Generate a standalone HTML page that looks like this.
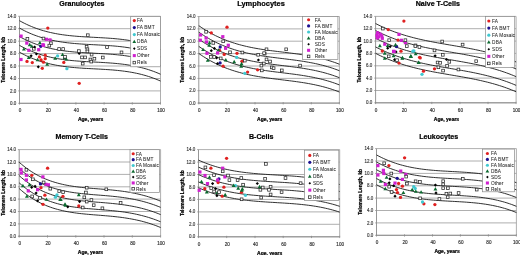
<!DOCTYPE html><html><head><meta charset="utf-8"><style>html,body{margin:0;padding:0;background:#fff;overflow:hidden}svg{display:block;will-change:transform}text{font-family:"Liberation Sans",sans-serif}</style></head><body>
<svg width="520" height="255" viewBox="0 0 520 255">
<rect width="520" height="255" fill="#fff"/>
<g><line x1="19.5" y1="103.3" x2="160.5" y2="103.3" stroke="#9a9a9a" stroke-width="0.8"/><line x1="19.5" y1="90.9" x2="160.5" y2="90.9" stroke="#9a9a9a" stroke-width="0.8"/><line x1="19.5" y1="78.5" x2="160.5" y2="78.5" stroke="#9a9a9a" stroke-width="0.8"/><line x1="19.5" y1="66.0" x2="160.5" y2="66.0" stroke="#9a9a9a" stroke-width="0.8"/><line x1="19.5" y1="53.6" x2="160.5" y2="53.6" stroke="#9a9a9a" stroke-width="0.8"/><line x1="19.5" y1="41.2" x2="160.5" y2="41.2" stroke="#9a9a9a" stroke-width="0.8"/><line x1="19.5" y1="28.7" x2="160.5" y2="28.7" stroke="#9a9a9a" stroke-width="0.8"/><line x1="19.5" y1="16.3" x2="160.5" y2="16.3" stroke="#9a9a9a" stroke-width="0.8"/><line x1="160.5" y1="16.3" x2="160.5" y2="103.3" stroke="#9a9a9a" stroke-width="0.8"/><line x1="19.5" y1="16.3" x2="19.5" y2="103.8" stroke="#8a8a8a" stroke-width="0.9"/><line x1="19.1" y1="103.3" x2="160.5" y2="103.3" stroke="#8a8a8a" stroke-width="0.9"/><line x1="18.2" y1="103.3" x2="19.5" y2="103.3" stroke="#8a8a8a" stroke-width="0.8"/><line x1="18.2" y1="90.9" x2="19.5" y2="90.9" stroke="#8a8a8a" stroke-width="0.8"/><line x1="18.2" y1="78.5" x2="19.5" y2="78.5" stroke="#8a8a8a" stroke-width="0.8"/><line x1="18.2" y1="66.0" x2="19.5" y2="66.0" stroke="#8a8a8a" stroke-width="0.8"/><line x1="18.2" y1="53.6" x2="19.5" y2="53.6" stroke="#8a8a8a" stroke-width="0.8"/><line x1="18.2" y1="41.2" x2="19.5" y2="41.2" stroke="#8a8a8a" stroke-width="0.8"/><line x1="18.2" y1="28.7" x2="19.5" y2="28.7" stroke="#8a8a8a" stroke-width="0.8"/><line x1="18.2" y1="16.3" x2="19.5" y2="16.3" stroke="#8a8a8a" stroke-width="0.8"/><line x1="19.5" y1="102.3" x2="19.5" y2="104.6" stroke="#8a8a8a" stroke-width="0.8"/><line x1="47.7" y1="102.3" x2="47.7" y2="104.6" stroke="#8a8a8a" stroke-width="0.8"/><line x1="75.9" y1="102.3" x2="75.9" y2="104.6" stroke="#8a8a8a" stroke-width="0.8"/><line x1="104.1" y1="102.3" x2="104.1" y2="104.6" stroke="#8a8a8a" stroke-width="0.8"/><line x1="132.3" y1="102.3" x2="132.3" y2="104.6" stroke="#8a8a8a" stroke-width="0.8"/><line x1="160.5" y1="102.3" x2="160.5" y2="104.6" stroke="#8a8a8a" stroke-width="0.8"/><text x="16.2" y="104.95" font-size="4.5" text-anchor="end" fill="#383838" stroke="#383838" stroke-width="0.14">0.0</text><text x="16.2" y="92.51" font-size="4.5" text-anchor="end" fill="#383838" stroke="#383838" stroke-width="0.14">2.0</text><text x="16.2" y="80.08" font-size="4.5" text-anchor="end" fill="#383838" stroke="#383838" stroke-width="0.14">4.0</text><text x="16.2" y="67.64" font-size="4.5" text-anchor="end" fill="#383838" stroke="#383838" stroke-width="0.14">6.0</text><text x="16.2" y="55.21" font-size="4.5" text-anchor="end" fill="#383838" stroke="#383838" stroke-width="0.14">8.0</text><text x="16.2" y="42.77" font-size="4.5" text-anchor="end" fill="#383838" stroke="#383838" stroke-width="0.14">10.0</text><text x="16.2" y="30.34" font-size="4.5" text-anchor="end" fill="#383838" stroke="#383838" stroke-width="0.14">12.0</text><text x="16.2" y="17.90" font-size="4.5" text-anchor="end" fill="#383838" stroke="#383838" stroke-width="0.14">14.0</text><text x="20.0" y="112.4" font-size="4.6" text-anchor="middle" fill="#333" stroke="#333" stroke-width="0.16">0</text><text x="48.2" y="112.4" font-size="4.6" text-anchor="middle" fill="#333" stroke="#333" stroke-width="0.16">20</text><text x="76.4" y="112.4" font-size="4.6" text-anchor="middle" fill="#333" stroke="#333" stroke-width="0.16">40</text><text x="104.6" y="112.4" font-size="4.6" text-anchor="middle" fill="#333" stroke="#333" stroke-width="0.16">60</text><text x="132.8" y="112.4" font-size="4.6" text-anchor="middle" fill="#333" stroke="#333" stroke-width="0.16">80</text><text x="161.0" y="112.4" font-size="4.6" text-anchor="middle" fill="#333" stroke="#333" stroke-width="0.16">100</text><text x="90.6" y="121.2" font-size="5.0" font-weight="bold" text-anchor="middle" fill="#000" stroke="#000" stroke-width="0.22">Age, years</text><text transform="translate(4.8,59.8) rotate(-90)" x="0" y="0" font-size="4.72" font-weight="bold" text-anchor="middle" fill="#000" stroke="#000" stroke-width="0.22">Telomere Length, kb</text><text x="81.9" y="6.1" font-size="7.1" font-weight="bold" text-anchor="middle" fill="#000" stroke="#000" stroke-width="0.2">Granulocytes</text><polyline points="19.50,20.69 21.89,22.00 24.28,23.23 26.67,24.40 29.06,25.49 31.45,26.51 33.84,27.47 36.23,28.36 38.62,29.19 41.01,29.97 43.40,30.69 45.79,31.35 48.18,31.97 50.57,32.53 52.96,33.05 55.35,33.53 57.74,33.97 60.13,34.36 62.52,34.73 64.91,35.06 67.30,35.35 69.69,35.62 72.08,35.87 74.47,36.09 76.86,36.29 79.25,36.47 81.64,36.64 84.03,36.79 86.42,36.93 88.81,37.06 91.19,37.19 93.58,37.31 95.97,37.44 98.36,37.56 100.75,37.69 103.14,37.83 105.53,37.97 107.92,38.13 110.31,38.30 112.70,38.48 115.09,38.69 117.48,38.92 119.87,39.17 122.26,39.44 124.65,39.75 127.04,40.09 129.43,40.46 131.82,40.87 134.21,41.32 136.60,41.81 138.99,42.34 141.38,42.92 143.77,43.55 146.16,44.23 148.55,44.97 150.94,45.76 153.33,46.61 155.72,47.52 158.11,48.50 160.50,49.54" fill="none" stroke="#1a1a1a" stroke-width="0.9"/><polyline points="19.50,28.09 21.89,29.40 24.28,30.63 26.67,31.80 29.06,32.89 31.45,33.91 33.84,34.87 36.23,35.76 38.62,36.59 41.01,37.37 43.40,38.09 45.79,38.75 48.18,39.37 50.57,39.93 52.96,40.45 55.35,40.93 57.74,41.37 60.13,41.76 62.52,42.13 64.91,42.46 67.30,42.75 69.69,43.02 72.08,43.27 74.47,43.49 76.86,43.69 79.25,43.87 81.64,44.04 84.03,44.19 86.42,44.33 88.81,44.46 91.19,44.59 93.58,44.71 95.97,44.84 98.36,44.96 100.75,45.09 103.14,45.23 105.53,45.37 107.92,45.53 110.31,45.70 112.70,45.88 115.09,46.09 117.48,46.32 119.87,46.57 122.26,46.84 124.65,47.15 127.04,47.49 129.43,47.86 131.82,48.27 134.21,48.72 136.60,49.21 138.99,49.74 141.38,50.32 143.77,50.95 146.16,51.63 148.55,52.37 150.94,53.16 153.33,54.01 155.72,54.92 158.11,55.90 160.50,56.94" fill="none" stroke="#1a1a1a" stroke-width="0.9"/><polyline points="19.50,36.59 21.89,37.90 24.28,39.13 26.67,40.30 29.06,41.39 31.45,42.41 33.84,43.37 36.23,44.26 38.62,45.09 41.01,45.87 43.40,46.59 45.79,47.25 48.18,47.87 50.57,48.43 52.96,48.95 55.35,49.43 57.74,49.87 60.13,50.26 62.52,50.63 64.91,50.96 67.30,51.25 69.69,51.52 72.08,51.77 74.47,51.99 76.86,52.19 79.25,52.37 81.64,52.54 84.03,52.69 86.42,52.83 88.81,52.96 91.19,53.09 93.58,53.21 95.97,53.34 98.36,53.46 100.75,53.59 103.14,53.73 105.53,53.87 107.92,54.03 110.31,54.20 112.70,54.38 115.09,54.59 117.48,54.82 119.87,55.07 122.26,55.34 124.65,55.65 127.04,55.99 129.43,56.36 131.82,56.77 134.21,57.22 136.60,57.71 138.99,58.24 141.38,58.82 143.77,59.45 146.16,60.13 148.55,60.87 150.94,61.66 153.33,62.51 155.72,63.42 158.11,64.40 160.50,65.44" fill="none" stroke="#1a1a1a" stroke-width="0.9"/><polyline points="19.50,45.39 21.89,46.70 24.28,47.93 26.67,49.10 29.06,50.19 31.45,51.21 33.84,52.17 36.23,53.06 38.62,53.89 41.01,54.67 43.40,55.39 45.79,56.05 48.18,56.67 50.57,57.23 52.96,57.75 55.35,58.23 57.74,58.67 60.13,59.06 62.52,59.43 64.91,59.76 67.30,60.05 69.69,60.32 72.08,60.57 74.47,60.79 76.86,60.99 79.25,61.17 81.64,61.34 84.03,61.49 86.42,61.63 88.81,61.76 91.19,61.89 93.58,62.01 95.97,62.14 98.36,62.26 100.75,62.39 103.14,62.53 105.53,62.67 107.92,62.83 110.31,63.00 112.70,63.18 115.09,63.39 117.48,63.62 119.87,63.87 122.26,64.14 124.65,64.45 127.04,64.79 129.43,65.16 131.82,65.57 134.21,66.02 136.60,66.51 138.99,67.04 141.38,67.62 143.77,68.25 146.16,68.93 148.55,69.67 150.94,70.46 153.33,71.31 155.72,72.22 158.11,73.20 160.50,74.24" fill="none" stroke="#1a1a1a" stroke-width="0.9"/><polyline points="19.50,52.19 21.89,53.50 24.28,54.73 26.67,55.90 29.06,56.99 31.45,58.01 33.84,58.97 36.23,59.86 38.62,60.69 41.01,61.47 43.40,62.19 45.79,62.85 48.18,63.47 50.57,64.03 52.96,64.55 55.35,65.03 57.74,65.47 60.13,65.86 62.52,66.23 64.91,66.56 67.30,66.85 69.69,67.12 72.08,67.37 74.47,67.59 76.86,67.79 79.25,67.97 81.64,68.14 84.03,68.29 86.42,68.43 88.81,68.56 91.19,68.69 93.58,68.81 95.97,68.94 98.36,69.06 100.75,69.19 103.14,69.33 105.53,69.47 107.92,69.63 110.31,69.80 112.70,69.98 115.09,70.19 117.48,70.42 119.87,70.67 122.26,70.94 124.65,71.25 127.04,71.59 129.43,71.96 131.82,72.37 134.21,72.82 136.60,73.31 138.99,73.84 141.38,74.42 143.77,75.05 146.16,75.73 148.55,76.47 150.94,77.26 153.33,78.11 155.72,79.02 158.11,80.00 160.50,81.04" fill="none" stroke="#1a1a1a" stroke-width="0.9"/><circle cx="47.80" cy="28.10" r="1.65" fill="#e02020"/><circle cx="27.00" cy="61.40" r="1.65" fill="#e02020"/><circle cx="32.30" cy="62.60" r="1.65" fill="#e02020"/><circle cx="39.40" cy="56.90" r="1.65" fill="#e02020"/><circle cx="45.20" cy="55.20" r="1.65" fill="#e02020"/><circle cx="45.20" cy="58.70" r="1.65" fill="#e02020"/><circle cx="41.10" cy="59.90" r="1.65" fill="#e02020"/><circle cx="43.50" cy="62.20" r="1.65" fill="#e02020"/><circle cx="42.30" cy="68.30" r="1.65" fill="#e02020"/><circle cx="63.80" cy="62.40" r="1.65" fill="#e02020"/><circle cx="79.20" cy="83.30" r="1.65" fill="#e02020"/><circle cx="40.80" cy="46.30" r="1.65" fill="#1c1090"/><path d="M31.80 44.35L33.75 47.76L29.85 47.76Z" fill="#0c6a30"/><rect x="32.45" y="47.45" width="2.70" height="2.70" fill="#fff" stroke="#2a2a2a" stroke-width="0.75"/><circle cx="57.60" cy="55.90" r="1.65" fill="#40c8d0"/><circle cx="66.90" cy="68.70" r="1.65" fill="#40c8d0"/><path d="M39.90 40.85L41.85 44.26L37.95 44.26Z" fill="#0c6a30"/><path d="M29.70 42.75L31.65 46.16L27.75 46.16Z" fill="#0c6a30"/><path d="M23.90 47.15L25.85 50.56L21.95 50.56Z" fill="#0c6a30"/><path d="M28.80 55.55L30.75 58.96L26.85 58.96Z" fill="#0c6a30"/><path d="M47.20 62.25L49.15 65.66L45.25 65.66Z" fill="#0c6a30"/><path d="M62.60 52.65L64.55 56.06L60.65 56.06Z" fill="#0c6a30"/><path d="M55.20 56.25L57.15 59.66L53.25 59.66Z" fill="#0c6a30"/><path d="M64.60 55.55L66.55 58.96L62.65 58.96Z" fill="#0c6a30"/><path d="M37.60 57.75L39.55 61.16L35.65 61.16Z" fill="#0c6a30"/><path d="M66.20 57.15L68.15 60.56L64.25 60.56Z" fill="#0c6a30"/><path d="M34.60 45.40L36.20 47.00L34.60 48.60L33.00 47.00Z" fill="#000000"/><path d="M31.10 54.20L32.70 55.80L31.10 57.40L29.50 55.80Z" fill="#000000"/><path d="M36.40 52.40L38.00 54.00L36.40 55.60L34.80 54.00Z" fill="#000000"/><path d="M38.30 65.20L39.90 66.80L38.30 68.40L36.70 66.80Z" fill="#000000"/><path d="M79.20 51.80L80.80 53.40L79.20 55.00L77.60 53.40Z" fill="#000000"/><rect x="19.50" y="34.50" width="3.20" height="3.20" fill="#d020d0"/><rect x="25.20" y="41.50" width="3.20" height="3.20" fill="#d020d0"/><rect x="44.80" y="37.70" width="3.20" height="3.20" fill="#d020d0"/><rect x="48.40" y="38.30" width="3.20" height="3.20" fill="#d020d0"/><rect x="41.40" y="43.10" width="3.20" height="3.20" fill="#d020d0"/><rect x="37.10" y="48.10" width="3.20" height="3.20" fill="#d020d0"/><rect x="27.20" y="48.70" width="3.20" height="3.20" fill="#d020d0"/><rect x="19.40" y="57.90" width="3.20" height="3.20" fill="#d020d0"/><rect x="41.90" y="43.80" width="3.20" height="3.20" fill="#d020d0"/><rect x="26.05" y="37.55" width="2.70" height="2.70" fill="#fff" stroke="#2a2a2a" stroke-width="0.75"/><rect x="42.15" y="37.15" width="2.70" height="2.70" fill="#fff" stroke="#2a2a2a" stroke-width="0.75"/><rect x="49.55" y="41.95" width="2.70" height="2.70" fill="#fff" stroke="#2a2a2a" stroke-width="0.75"/><rect x="47.95" y="44.25" width="2.70" height="2.70" fill="#fff" stroke="#2a2a2a" stroke-width="0.75"/><rect x="57.75" y="47.65" width="2.70" height="2.70" fill="#fff" stroke="#2a2a2a" stroke-width="0.75"/><rect x="61.85" y="47.65" width="2.70" height="2.70" fill="#fff" stroke="#2a2a2a" stroke-width="0.75"/><rect x="86.45" y="33.85" width="2.70" height="2.70" fill="#fff" stroke="#2a2a2a" stroke-width="0.75"/><rect x="105.65" y="45.75" width="2.70" height="2.70" fill="#fff" stroke="#2a2a2a" stroke-width="0.75"/><rect x="85.25" y="45.45" width="2.70" height="2.70" fill="#fff" stroke="#2a2a2a" stroke-width="0.75"/><rect x="86.05" y="47.95" width="2.70" height="2.70" fill="#fff" stroke="#2a2a2a" stroke-width="0.75"/><rect x="86.05" y="50.05" width="2.70" height="2.70" fill="#fff" stroke="#2a2a2a" stroke-width="0.75"/><rect x="77.55" y="49.75" width="2.70" height="2.70" fill="#fff" stroke="#2a2a2a" stroke-width="0.75"/><rect x="90.25" y="53.25" width="2.70" height="2.70" fill="#fff" stroke="#2a2a2a" stroke-width="0.75"/><rect x="80.65" y="56.05" width="2.70" height="2.70" fill="#fff" stroke="#2a2a2a" stroke-width="0.75"/><rect x="83.75" y="56.05" width="2.70" height="2.70" fill="#fff" stroke="#2a2a2a" stroke-width="0.75"/><rect x="89.05" y="58.15" width="2.70" height="2.70" fill="#fff" stroke="#2a2a2a" stroke-width="0.75"/><rect x="93.05" y="57.35" width="2.70" height="2.70" fill="#fff" stroke="#2a2a2a" stroke-width="0.75"/><rect x="101.45" y="56.15" width="2.70" height="2.70" fill="#fff" stroke="#2a2a2a" stroke-width="0.75"/><rect x="81.35" y="62.25" width="2.70" height="2.70" fill="#fff" stroke="#2a2a2a" stroke-width="0.75"/><rect x="89.95" y="60.25" width="2.70" height="2.70" fill="#fff" stroke="#2a2a2a" stroke-width="0.75"/><rect x="120.15" y="51.05" width="2.70" height="2.70" fill="#fff" stroke="#2a2a2a" stroke-width="0.75"/><rect x="63.65" y="55.45" width="2.70" height="2.70" fill="#fff" stroke="#2a2a2a" stroke-width="0.75"/><rect x="130.7" y="16.6" width="29.7" height="50.2" fill="#fff" stroke="#8a8a8a" stroke-width="0.7"/><circle cx="134.30" cy="20.60" r="1.57" fill="#e02020"/><text x="137.1" y="22.3" font-size="4.75" letter-spacing="0.12" fill="#2a2a2a" stroke="#2a2a2a" stroke-width="0.06">FA</text><circle cx="134.30" cy="27.60" r="1.57" fill="#1c1090"/><text x="137.1" y="29.3" font-size="4.75" letter-spacing="0.12" fill="#2a2a2a" stroke="#2a2a2a" stroke-width="0.06">FA BMT</text><circle cx="134.30" cy="34.60" r="1.57" fill="#40c8d0"/><text x="137.1" y="36.3" font-size="4.75" letter-spacing="0.12" fill="#2a2a2a" stroke="#2a2a2a" stroke-width="0.06">FA Mosaic</text><path d="M134.30 39.75L136.15 42.99L132.45 42.99Z" fill="#0c6a30"/><text x="137.1" y="43.3" font-size="4.75" letter-spacing="0.12" fill="#2a2a2a" stroke="#2a2a2a" stroke-width="0.06">DBA</text><path d="M134.30 47.32L135.58 48.60L134.30 49.88L133.02 48.60Z" fill="#000000"/><text x="137.1" y="50.3" font-size="4.75" letter-spacing="0.12" fill="#2a2a2a" stroke="#2a2a2a" stroke-width="0.06">SDS</text><rect x="132.78" y="54.08" width="3.04" height="3.04" fill="#d020d0"/><text x="137.1" y="57.3" font-size="4.75" letter-spacing="0.12" fill="#2a2a2a" stroke="#2a2a2a" stroke-width="0.06">Other</text><rect x="133.02" y="61.32" width="2.56" height="2.56" fill="#fff" stroke="#2a2a2a" stroke-width="0.75"/><text x="137.1" y="64.3" font-size="4.75" letter-spacing="0.12" fill="#2a2a2a" stroke="#2a2a2a" stroke-width="0.06">Rels</text></g>
<g><line x1="198.8" y1="103.1" x2="339.4" y2="103.1" stroke="#9a9a9a" stroke-width="0.8"/><line x1="198.8" y1="90.7" x2="339.4" y2="90.7" stroke="#9a9a9a" stroke-width="0.8"/><line x1="198.8" y1="78.4" x2="339.4" y2="78.4" stroke="#9a9a9a" stroke-width="0.8"/><line x1="198.8" y1="66.0" x2="339.4" y2="66.0" stroke="#9a9a9a" stroke-width="0.8"/><line x1="198.8" y1="53.6" x2="339.4" y2="53.6" stroke="#9a9a9a" stroke-width="0.8"/><line x1="198.8" y1="41.2" x2="339.4" y2="41.2" stroke="#9a9a9a" stroke-width="0.8"/><line x1="198.8" y1="28.9" x2="339.4" y2="28.9" stroke="#9a9a9a" stroke-width="0.8"/><line x1="198.8" y1="16.5" x2="339.4" y2="16.5" stroke="#9a9a9a" stroke-width="0.8"/><line x1="339.4" y1="16.5" x2="339.4" y2="103.1" stroke="#9a9a9a" stroke-width="0.8"/><line x1="198.8" y1="16.5" x2="198.8" y2="103.5" stroke="#8a8a8a" stroke-width="0.9"/><line x1="198.4" y1="103.1" x2="339.4" y2="103.1" stroke="#8a8a8a" stroke-width="0.9"/><line x1="197.5" y1="103.1" x2="198.8" y2="103.1" stroke="#8a8a8a" stroke-width="0.8"/><line x1="197.5" y1="90.7" x2="198.8" y2="90.7" stroke="#8a8a8a" stroke-width="0.8"/><line x1="197.5" y1="78.4" x2="198.8" y2="78.4" stroke="#8a8a8a" stroke-width="0.8"/><line x1="197.5" y1="66.0" x2="198.8" y2="66.0" stroke="#8a8a8a" stroke-width="0.8"/><line x1="197.5" y1="53.6" x2="198.8" y2="53.6" stroke="#8a8a8a" stroke-width="0.8"/><line x1="197.5" y1="41.2" x2="198.8" y2="41.2" stroke="#8a8a8a" stroke-width="0.8"/><line x1="197.5" y1="28.9" x2="198.8" y2="28.9" stroke="#8a8a8a" stroke-width="0.8"/><line x1="197.5" y1="16.5" x2="198.8" y2="16.5" stroke="#8a8a8a" stroke-width="0.8"/><line x1="198.8" y1="102.1" x2="198.8" y2="104.4" stroke="#8a8a8a" stroke-width="0.8"/><line x1="226.9" y1="102.1" x2="226.9" y2="104.4" stroke="#8a8a8a" stroke-width="0.8"/><line x1="255.0" y1="102.1" x2="255.0" y2="104.4" stroke="#8a8a8a" stroke-width="0.8"/><line x1="283.2" y1="102.1" x2="283.2" y2="104.4" stroke="#8a8a8a" stroke-width="0.8"/><line x1="311.3" y1="102.1" x2="311.3" y2="104.4" stroke="#8a8a8a" stroke-width="0.8"/><line x1="339.4" y1="102.1" x2="339.4" y2="104.4" stroke="#8a8a8a" stroke-width="0.8"/><text x="195.5" y="104.70" font-size="4.5" text-anchor="end" fill="#383838" stroke="#383838" stroke-width="0.14">0.0</text><text x="195.5" y="92.33" font-size="4.5" text-anchor="end" fill="#383838" stroke="#383838" stroke-width="0.14">2.0</text><text x="195.5" y="79.96" font-size="4.5" text-anchor="end" fill="#383838" stroke="#383838" stroke-width="0.14">4.0</text><text x="195.5" y="67.59" font-size="4.5" text-anchor="end" fill="#383838" stroke="#383838" stroke-width="0.14">6.0</text><text x="195.5" y="55.21" font-size="4.5" text-anchor="end" fill="#383838" stroke="#383838" stroke-width="0.14">8.0</text><text x="195.5" y="42.84" font-size="4.5" text-anchor="end" fill="#383838" stroke="#383838" stroke-width="0.14">10.0</text><text x="195.5" y="30.47" font-size="4.5" text-anchor="end" fill="#383838" stroke="#383838" stroke-width="0.14">12.0</text><text x="195.5" y="18.10" font-size="4.5" text-anchor="end" fill="#383838" stroke="#383838" stroke-width="0.14">14.0</text><text x="199.3" y="112.2" font-size="4.6" text-anchor="middle" fill="#333" stroke="#333" stroke-width="0.16">0</text><text x="227.4" y="112.2" font-size="4.6" text-anchor="middle" fill="#333" stroke="#333" stroke-width="0.16">20</text><text x="255.5" y="112.2" font-size="4.6" text-anchor="middle" fill="#333" stroke="#333" stroke-width="0.16">40</text><text x="283.7" y="112.2" font-size="4.6" text-anchor="middle" fill="#333" stroke="#333" stroke-width="0.16">60</text><text x="311.8" y="112.2" font-size="4.6" text-anchor="middle" fill="#333" stroke="#333" stroke-width="0.16">80</text><text x="339.9" y="112.2" font-size="4.6" text-anchor="middle" fill="#333" stroke="#333" stroke-width="0.16">100</text><text x="269.7" y="121.0" font-size="5.0" font-weight="bold" text-anchor="middle" fill="#000" stroke="#000" stroke-width="0.22">Age, years</text><text transform="translate(184.1,59.8) rotate(-90)" x="0" y="0" font-size="4.72" font-weight="bold" text-anchor="middle" fill="#000" stroke="#000" stroke-width="0.22">Telomere Length, kb</text><text x="261.0" y="6.1" font-size="7.45" font-weight="bold" text-anchor="middle" fill="#000" stroke="#000" stroke-width="0.2">Lymphocytes</text><polyline points="198.80,25.68 201.18,27.32 203.57,28.88 205.95,30.37 208.33,31.78 210.72,33.13 213.10,34.41 215.48,35.62 217.86,36.76 220.25,37.85 222.63,38.88 225.01,39.85 227.40,40.77 229.78,41.63 232.16,42.45 234.55,43.21 236.93,43.94 239.31,44.61 241.69,45.25 244.08,45.85 246.46,46.41 248.84,46.94 251.23,47.44 253.61,47.91 255.99,48.35 258.38,48.76 260.76,49.16 263.14,49.53 265.53,49.88 267.91,50.22 270.29,50.55 272.67,50.86 275.06,51.16 277.44,51.46 279.82,51.75 282.21,52.04 284.59,52.34 286.97,52.63 289.36,52.93 291.74,53.23 294.12,53.54 296.51,53.87 298.89,54.20 301.27,54.56 303.65,54.93 306.04,55.32 308.42,55.74 310.80,56.18 313.19,56.64 315.57,57.14 317.95,57.67 320.34,58.23 322.72,58.83 325.10,59.46 327.48,60.14 329.87,60.86 332.25,61.63 334.63,62.44 337.02,63.30 339.40,64.22" fill="none" stroke="#1a1a1a" stroke-width="0.9"/><polyline points="198.80,32.18 201.18,33.82 203.57,35.38 205.95,36.87 208.33,38.28 210.72,39.63 213.10,40.91 215.48,42.12 217.86,43.26 220.25,44.35 222.63,45.38 225.01,46.35 227.40,47.27 229.78,48.13 232.16,48.95 234.55,49.71 236.93,50.44 239.31,51.11 241.69,51.75 244.08,52.35 246.46,52.91 248.84,53.44 251.23,53.94 253.61,54.41 255.99,54.85 258.38,55.26 260.76,55.66 263.14,56.03 265.53,56.38 267.91,56.72 270.29,57.05 272.67,57.36 275.06,57.66 277.44,57.96 279.82,58.25 282.21,58.54 284.59,58.84 286.97,59.13 289.36,59.43 291.74,59.73 294.12,60.04 296.51,60.37 298.89,60.70 301.27,61.06 303.65,61.43 306.04,61.82 308.42,62.24 310.80,62.68 313.19,63.14 315.57,63.64 317.95,64.17 320.34,64.73 322.72,65.33 325.10,65.96 327.48,66.64 329.87,67.36 332.25,68.13 334.63,68.94 337.02,69.80 339.40,70.72" fill="none" stroke="#1a1a1a" stroke-width="0.9"/><polyline points="198.80,39.18 201.18,40.82 203.57,42.38 205.95,43.87 208.33,45.28 210.72,46.63 213.10,47.91 215.48,49.12 217.86,50.26 220.25,51.35 222.63,52.38 225.01,53.35 227.40,54.27 229.78,55.13 232.16,55.95 234.55,56.71 236.93,57.44 239.31,58.11 241.69,58.75 244.08,59.35 246.46,59.91 248.84,60.44 251.23,60.94 253.61,61.41 255.99,61.85 258.38,62.26 260.76,62.66 263.14,63.03 265.53,63.38 267.91,63.72 270.29,64.05 272.67,64.36 275.06,64.66 277.44,64.96 279.82,65.25 282.21,65.54 284.59,65.84 286.97,66.13 289.36,66.43 291.74,66.73 294.12,67.04 296.51,67.37 298.89,67.70 301.27,68.06 303.65,68.43 306.04,68.82 308.42,69.24 310.80,69.68 313.19,70.14 315.57,70.64 317.95,71.17 320.34,71.73 322.72,72.33 325.10,72.96 327.48,73.64 329.87,74.36 332.25,75.13 334.63,75.94 337.02,76.80 339.40,77.72" fill="none" stroke="#1a1a1a" stroke-width="0.9"/><polyline points="198.80,46.38 201.18,48.02 203.57,49.58 205.95,51.07 208.33,52.48 210.72,53.83 213.10,55.11 215.48,56.32 217.86,57.46 220.25,58.55 222.63,59.58 225.01,60.55 227.40,61.47 229.78,62.33 232.16,63.15 234.55,63.91 236.93,64.64 239.31,65.31 241.69,65.95 244.08,66.55 246.46,67.11 248.84,67.64 251.23,68.14 253.61,68.61 255.99,69.05 258.38,69.46 260.76,69.86 263.14,70.23 265.53,70.58 267.91,70.92 270.29,71.25 272.67,71.56 275.06,71.86 277.44,72.16 279.82,72.45 282.21,72.74 284.59,73.04 286.97,73.33 289.36,73.63 291.74,73.93 294.12,74.24 296.51,74.57 298.89,74.90 301.27,75.26 303.65,75.63 306.04,76.02 308.42,76.44 310.80,76.88 313.19,77.34 315.57,77.84 317.95,78.37 320.34,78.93 322.72,79.53 325.10,80.16 327.48,80.84 329.87,81.56 332.25,82.33 334.63,83.14 337.02,84.00 339.40,84.92" fill="none" stroke="#1a1a1a" stroke-width="0.9"/><polyline points="198.80,53.48 201.18,55.12 203.57,56.68 205.95,58.17 208.33,59.58 210.72,60.93 213.10,62.21 215.48,63.42 217.86,64.56 220.25,65.65 222.63,66.68 225.01,67.65 227.40,68.57 229.78,69.43 232.16,70.25 234.55,71.01 236.93,71.74 239.31,72.41 241.69,73.05 244.08,73.65 246.46,74.21 248.84,74.74 251.23,75.24 253.61,75.71 255.99,76.15 258.38,76.56 260.76,76.96 263.14,77.33 265.53,77.68 267.91,78.02 270.29,78.35 272.67,78.66 275.06,78.96 277.44,79.26 279.82,79.55 282.21,79.84 284.59,80.14 286.97,80.43 289.36,80.73 291.74,81.03 294.12,81.34 296.51,81.67 298.89,82.00 301.27,82.36 303.65,82.73 306.04,83.12 308.42,83.54 310.80,83.98 313.19,84.44 315.57,84.94 317.95,85.47 320.34,86.03 322.72,86.63 325.10,87.26 327.48,87.94 329.87,88.66 332.25,89.43 334.63,90.24 337.02,91.10 339.40,92.02" fill="none" stroke="#1a1a1a" stroke-width="0.9"/><circle cx="227.00" cy="27.20" r="1.65" fill="#e02020"/><circle cx="211.30" cy="32.90" r="1.65" fill="#e02020"/><circle cx="224.20" cy="54.40" r="1.65" fill="#e02020"/><circle cx="237.00" cy="53.30" r="1.65" fill="#e02020"/><circle cx="219.50" cy="50.30" r="1.65" fill="#e02020"/><circle cx="223.10" cy="66.20" r="1.65" fill="#e02020"/><circle cx="241.90" cy="61.30" r="1.65" fill="#e02020"/><circle cx="243.30" cy="60.80" r="1.65" fill="#e02020"/><circle cx="257.60" cy="69.80" r="1.65" fill="#e02020"/><circle cx="247.60" cy="72.10" r="1.65" fill="#e02020"/><circle cx="220.20" cy="47.00" r="1.65" fill="#1c1090"/><circle cx="220.10" cy="62.90" r="1.65" fill="#1c1090"/><circle cx="236.70" cy="57.40" r="1.65" fill="#40c8d0"/><circle cx="244.70" cy="73.30" r="1.65" fill="#40c8d0"/><path d="M209.20 43.25L211.15 46.66L207.25 46.66Z" fill="#0c6a30"/><path d="M203.10 47.65L205.05 51.06L201.15 51.06Z" fill="#0c6a30"/><path d="M207.80 58.25L209.75 61.66L205.85 61.66Z" fill="#0c6a30"/><path d="M218.40 48.15L220.35 51.56L216.45 51.56Z" fill="#0c6a30"/><path d="M225.80 58.05L227.75 61.46L223.85 61.46Z" fill="#0c6a30"/><path d="M234.20 59.75L236.15 63.16L232.25 63.16Z" fill="#0c6a30"/><path d="M241.60 61.85L243.55 65.26L239.65 65.26Z" fill="#0c6a30"/><path d="M241.20 64.25L243.15 67.66L239.25 67.66Z" fill="#0c6a30"/><path d="M209.50 40.85L211.45 44.26L207.55 44.26Z" fill="#0c6a30"/><path d="M211.30 49.10L212.90 50.70L211.30 52.30L209.70 50.70Z" fill="#000000"/><path d="M214.40 46.80L216.00 48.40L214.40 50.00L212.80 48.40Z" fill="#000000"/><path d="M216.60 56.20L218.20 57.80L216.60 59.40L215.00 57.80Z" fill="#000000"/><path d="M217.50 62.10L219.10 63.70L217.50 65.30L215.90 63.70Z" fill="#000000"/><path d="M258.40 58.40L260.00 60.00L258.40 61.60L256.80 60.00Z" fill="#000000"/><rect x="199.00" y="33.40" width="3.20" height="3.20" fill="#d020d0"/><rect x="204.50" y="36.40" width="3.20" height="3.20" fill="#d020d0"/><rect x="198.70" y="38.60" width="3.20" height="3.20" fill="#d020d0"/><rect x="204.90" y="40.40" width="3.20" height="3.20" fill="#d020d0"/><rect x="221.20" y="35.10" width="3.20" height="3.20" fill="#d020d0"/><rect x="226.70" y="43.70" width="3.20" height="3.20" fill="#d020d0"/><rect x="224.00" y="46.70" width="3.20" height="3.20" fill="#d020d0"/><rect x="216.00" y="51.40" width="3.20" height="3.20" fill="#d020d0"/><rect x="205.40" y="51.70" width="3.20" height="3.20" fill="#d020d0"/><rect x="204.75" y="30.45" width="2.70" height="2.70" fill="#fff" stroke="#2a2a2a" stroke-width="0.75"/><rect x="211.95" y="41.55" width="2.70" height="2.70" fill="#fff" stroke="#2a2a2a" stroke-width="0.75"/><rect x="221.85" y="39.95" width="2.70" height="2.70" fill="#fff" stroke="#2a2a2a" stroke-width="0.75"/><rect x="228.65" y="50.95" width="2.70" height="2.70" fill="#fff" stroke="#2a2a2a" stroke-width="0.75"/><rect x="219.35" y="57.05" width="2.70" height="2.70" fill="#fff" stroke="#2a2a2a" stroke-width="0.75"/><rect x="212.85" y="55.65" width="2.70" height="2.70" fill="#fff" stroke="#2a2a2a" stroke-width="0.75"/><rect x="209.55" y="55.55" width="2.70" height="2.70" fill="#fff" stroke="#2a2a2a" stroke-width="0.75"/><rect x="265.15" y="47.95" width="2.70" height="2.70" fill="#fff" stroke="#2a2a2a" stroke-width="0.75"/><rect x="284.85" y="47.95" width="2.70" height="2.70" fill="#fff" stroke="#2a2a2a" stroke-width="0.75"/><rect x="241.05" y="51.15" width="2.70" height="2.70" fill="#fff" stroke="#2a2a2a" stroke-width="0.75"/><rect x="256.85" y="53.45" width="2.70" height="2.70" fill="#fff" stroke="#2a2a2a" stroke-width="0.75"/><rect x="263.35" y="52.25" width="2.70" height="2.70" fill="#fff" stroke="#2a2a2a" stroke-width="0.75"/><rect x="265.15" y="58.05" width="2.70" height="2.70" fill="#fff" stroke="#2a2a2a" stroke-width="0.75"/><rect x="262.45" y="62.15" width="2.70" height="2.70" fill="#fff" stroke="#2a2a2a" stroke-width="0.75"/><rect x="268.65" y="60.15" width="2.70" height="2.70" fill="#fff" stroke="#2a2a2a" stroke-width="0.75"/><rect x="260.05" y="64.25" width="2.70" height="2.70" fill="#fff" stroke="#2a2a2a" stroke-width="0.75"/><rect x="270.45" y="66.05" width="2.70" height="2.70" fill="#fff" stroke="#2a2a2a" stroke-width="0.75"/><rect x="280.45" y="69.05" width="2.70" height="2.70" fill="#fff" stroke="#2a2a2a" stroke-width="0.75"/><rect x="260.45" y="69.05" width="2.70" height="2.70" fill="#fff" stroke="#2a2a2a" stroke-width="0.75"/><rect x="298.75" y="64.25" width="2.70" height="2.70" fill="#fff" stroke="#2a2a2a" stroke-width="0.75"/><rect x="262.75" y="51.85" width="2.70" height="2.70" fill="#fff" stroke="#2a2a2a" stroke-width="0.75"/><rect x="272.25" y="66.85" width="2.70" height="2.70" fill="#fff" stroke="#2a2a2a" stroke-width="0.75"/><rect x="243.45" y="59.25" width="2.70" height="2.70" fill="#fff" stroke="#2a2a2a" stroke-width="0.75"/><rect x="302.4" y="16.6" width="35.5" height="43.0" fill="#fff" stroke="#8a8a8a" stroke-width="0.7"/><circle cx="308.60" cy="19.80" r="1.57" fill="#e02020"/><text x="314.8" y="21.5" font-size="4.75" letter-spacing="0.12" fill="#2a2a2a" stroke="#2a2a2a" stroke-width="0.06">FA</text><circle cx="308.60" cy="25.90" r="1.57" fill="#1c1090"/><text x="314.8" y="27.6" font-size="4.75" letter-spacing="0.12" fill="#2a2a2a" stroke="#2a2a2a" stroke-width="0.06">FA BMT</text><circle cx="308.60" cy="32.00" r="1.57" fill="#40c8d0"/><text x="314.8" y="33.7" font-size="4.75" letter-spacing="0.12" fill="#2a2a2a" stroke="#2a2a2a" stroke-width="0.06">FA Mosaic</text><path d="M308.60 36.25L310.45 39.49L306.75 39.49Z" fill="#0c6a30"/><text x="314.8" y="39.8" font-size="4.75" letter-spacing="0.12" fill="#2a2a2a" stroke="#2a2a2a" stroke-width="0.06">DBA</text><path d="M308.60 42.92L309.88 44.20L308.60 45.48L307.32 44.20Z" fill="#000000"/><text x="314.8" y="45.9" font-size="4.75" letter-spacing="0.12" fill="#2a2a2a" stroke="#2a2a2a" stroke-width="0.06">SDS</text><rect x="307.08" y="48.78" width="3.04" height="3.04" fill="#d020d0"/><text x="314.8" y="52.0" font-size="4.75" letter-spacing="0.12" fill="#2a2a2a" stroke="#2a2a2a" stroke-width="0.06">Other</text><rect x="307.32" y="55.12" width="2.56" height="2.56" fill="#fff" stroke="#2a2a2a" stroke-width="0.75"/><text x="314.8" y="58.1" font-size="4.75" letter-spacing="0.12" fill="#2a2a2a" stroke="#2a2a2a" stroke-width="0.06">Rels</text></g>
<g><line x1="375.6" y1="102.8" x2="516.1" y2="102.8" stroke="#9a9a9a" stroke-width="0.8"/><line x1="375.6" y1="90.5" x2="516.1" y2="90.5" stroke="#9a9a9a" stroke-width="0.8"/><line x1="375.6" y1="78.1" x2="516.1" y2="78.1" stroke="#9a9a9a" stroke-width="0.8"/><line x1="375.6" y1="65.8" x2="516.1" y2="65.8" stroke="#9a9a9a" stroke-width="0.8"/><line x1="375.6" y1="53.4" x2="516.1" y2="53.4" stroke="#9a9a9a" stroke-width="0.8"/><line x1="375.6" y1="41.1" x2="516.1" y2="41.1" stroke="#9a9a9a" stroke-width="0.8"/><line x1="375.6" y1="28.7" x2="516.1" y2="28.7" stroke="#9a9a9a" stroke-width="0.8"/><line x1="375.6" y1="16.4" x2="516.1" y2="16.4" stroke="#9a9a9a" stroke-width="0.8"/><line x1="516.1" y1="16.4" x2="516.1" y2="102.8" stroke="#9a9a9a" stroke-width="0.8"/><line x1="375.6" y1="16.4" x2="375.6" y2="103.2" stroke="#8a8a8a" stroke-width="0.9"/><line x1="375.2" y1="102.8" x2="516.1" y2="102.8" stroke="#8a8a8a" stroke-width="0.9"/><line x1="374.3" y1="102.8" x2="375.6" y2="102.8" stroke="#8a8a8a" stroke-width="0.8"/><line x1="374.3" y1="90.5" x2="375.6" y2="90.5" stroke="#8a8a8a" stroke-width="0.8"/><line x1="374.3" y1="78.1" x2="375.6" y2="78.1" stroke="#8a8a8a" stroke-width="0.8"/><line x1="374.3" y1="65.8" x2="375.6" y2="65.8" stroke="#8a8a8a" stroke-width="0.8"/><line x1="374.3" y1="53.4" x2="375.6" y2="53.4" stroke="#8a8a8a" stroke-width="0.8"/><line x1="374.3" y1="41.1" x2="375.6" y2="41.1" stroke="#8a8a8a" stroke-width="0.8"/><line x1="374.3" y1="28.7" x2="375.6" y2="28.7" stroke="#8a8a8a" stroke-width="0.8"/><line x1="374.3" y1="16.4" x2="375.6" y2="16.4" stroke="#8a8a8a" stroke-width="0.8"/><line x1="375.6" y1="101.8" x2="375.6" y2="104.1" stroke="#8a8a8a" stroke-width="0.8"/><line x1="403.7" y1="101.8" x2="403.7" y2="104.1" stroke="#8a8a8a" stroke-width="0.8"/><line x1="431.8" y1="101.8" x2="431.8" y2="104.1" stroke="#8a8a8a" stroke-width="0.8"/><line x1="459.9" y1="101.8" x2="459.9" y2="104.1" stroke="#8a8a8a" stroke-width="0.8"/><line x1="488.0" y1="101.8" x2="488.0" y2="104.1" stroke="#8a8a8a" stroke-width="0.8"/><line x1="516.1" y1="101.8" x2="516.1" y2="104.1" stroke="#8a8a8a" stroke-width="0.8"/><text x="372.3" y="104.40" font-size="4.5" text-anchor="end" fill="#383838" stroke="#383838" stroke-width="0.14">0.0</text><text x="372.3" y="92.06" font-size="4.5" text-anchor="end" fill="#383838" stroke="#383838" stroke-width="0.14">2.0</text><text x="372.3" y="79.71" font-size="4.5" text-anchor="end" fill="#383838" stroke="#383838" stroke-width="0.14">4.0</text><text x="372.3" y="67.37" font-size="4.5" text-anchor="end" fill="#383838" stroke="#383838" stroke-width="0.14">6.0</text><text x="372.3" y="55.03" font-size="4.5" text-anchor="end" fill="#383838" stroke="#383838" stroke-width="0.14">8.0</text><text x="372.3" y="42.69" font-size="4.5" text-anchor="end" fill="#383838" stroke="#383838" stroke-width="0.14">10.0</text><text x="372.3" y="30.34" font-size="4.5" text-anchor="end" fill="#383838" stroke="#383838" stroke-width="0.14">12.0</text><text x="372.3" y="18.00" font-size="4.5" text-anchor="end" fill="#383838" stroke="#383838" stroke-width="0.14">14.0</text><text x="376.1" y="111.9" font-size="4.6" text-anchor="middle" fill="#333" stroke="#333" stroke-width="0.16">0</text><text x="404.2" y="111.9" font-size="4.6" text-anchor="middle" fill="#333" stroke="#333" stroke-width="0.16">20</text><text x="432.3" y="111.9" font-size="4.6" text-anchor="middle" fill="#333" stroke="#333" stroke-width="0.16">40</text><text x="460.4" y="111.9" font-size="4.6" text-anchor="middle" fill="#333" stroke="#333" stroke-width="0.16">60</text><text x="488.5" y="111.9" font-size="4.6" text-anchor="middle" fill="#333" stroke="#333" stroke-width="0.16">80</text><text x="516.6" y="111.9" font-size="4.6" text-anchor="middle" fill="#333" stroke="#333" stroke-width="0.16">100</text><text x="446.5" y="120.7" font-size="5.0" font-weight="bold" text-anchor="middle" fill="#000" stroke="#000" stroke-width="0.22">Age, years</text><text transform="translate(360.9,59.6) rotate(-90)" x="0" y="0" font-size="4.72" font-weight="bold" text-anchor="middle" fill="#000" stroke="#000" stroke-width="0.22">Telomere Length, kb</text><text x="437.8" y="6.1" font-size="7.1" font-weight="bold" text-anchor="middle" fill="#000" stroke="#000" stroke-width="0.2">Naive T-Cells</text><polyline points="375.60,23.54 377.98,24.76 380.36,25.92 382.74,27.03 385.13,28.10 387.51,29.12 389.89,30.09 392.27,31.02 394.65,31.91 397.03,32.77 399.41,33.58 401.79,34.36 404.18,35.10 406.56,35.81 408.94,36.49 411.32,37.14 413.70,37.76 416.08,38.36 418.46,38.93 420.85,39.48 423.23,40.01 425.61,40.52 427.99,41.01 430.37,41.48 432.75,41.95 435.13,42.39 437.52,42.83 439.90,43.26 442.28,43.68 444.66,44.09 447.04,44.50 449.42,44.91 451.80,45.31 454.18,45.72 456.57,46.13 458.95,46.54 461.33,46.96 463.71,47.38 466.09,47.82 468.47,48.26 470.85,48.72 473.24,49.19 475.62,49.68 478.00,50.18 480.38,50.71 482.76,51.25 485.14,51.82 487.52,52.40 489.91,53.02 492.29,53.66 494.67,54.33 497.05,55.04 499.43,55.77 501.81,56.54 504.19,57.34 506.57,58.19 508.96,59.07 511.34,59.99 513.72,60.95 516.10,61.96" fill="none" stroke="#1a1a1a" stroke-width="0.9"/><polyline points="375.60,30.54 377.98,31.76 380.36,32.92 382.74,34.03 385.13,35.10 387.51,36.12 389.89,37.09 392.27,38.02 394.65,38.91 397.03,39.77 399.41,40.58 401.79,41.36 404.18,42.10 406.56,42.81 408.94,43.49 411.32,44.14 413.70,44.76 416.08,45.36 418.46,45.93 420.85,46.48 423.23,47.01 425.61,47.52 427.99,48.01 430.37,48.48 432.75,48.95 435.13,49.39 437.52,49.83 439.90,50.26 442.28,50.68 444.66,51.09 447.04,51.50 449.42,51.91 451.80,52.31 454.18,52.72 456.57,53.13 458.95,53.54 461.33,53.96 463.71,54.38 466.09,54.82 468.47,55.26 470.85,55.72 473.24,56.19 475.62,56.68 478.00,57.18 480.38,57.71 482.76,58.25 485.14,58.82 487.52,59.40 489.91,60.02 492.29,60.66 494.67,61.33 497.05,62.04 499.43,62.77 501.81,63.54 504.19,64.34 506.57,65.19 508.96,66.07 511.34,66.99 513.72,67.95 516.10,68.96" fill="none" stroke="#1a1a1a" stroke-width="0.9"/><polyline points="375.60,38.24 377.98,39.46 380.36,40.62 382.74,41.73 385.13,42.80 387.51,43.82 389.89,44.79 392.27,45.72 394.65,46.61 397.03,47.47 399.41,48.28 401.79,49.06 404.18,49.80 406.56,50.51 408.94,51.19 411.32,51.84 413.70,52.46 416.08,53.06 418.46,53.63 420.85,54.18 423.23,54.71 425.61,55.22 427.99,55.71 430.37,56.18 432.75,56.65 435.13,57.09 437.52,57.53 439.90,57.96 442.28,58.38 444.66,58.79 447.04,59.20 449.42,59.61 451.80,60.01 454.18,60.42 456.57,60.83 458.95,61.24 461.33,61.66 463.71,62.08 466.09,62.52 468.47,62.96 470.85,63.42 473.24,63.89 475.62,64.38 478.00,64.88 480.38,65.41 482.76,65.95 485.14,66.52 487.52,67.10 489.91,67.72 492.29,68.36 494.67,69.03 497.05,69.74 499.43,70.47 501.81,71.24 504.19,72.04 506.57,72.89 508.96,73.77 511.34,74.69 513.72,75.65 516.10,76.66" fill="none" stroke="#1a1a1a" stroke-width="0.9"/><polyline points="375.60,46.94 377.98,48.16 380.36,49.32 382.74,50.43 385.13,51.50 387.51,52.52 389.89,53.49 392.27,54.42 394.65,55.31 397.03,56.17 399.41,56.98 401.79,57.76 404.18,58.50 406.56,59.21 408.94,59.89 411.32,60.54 413.70,61.16 416.08,61.76 418.46,62.33 420.85,62.88 423.23,63.41 425.61,63.92 427.99,64.41 430.37,64.88 432.75,65.35 435.13,65.79 437.52,66.23 439.90,66.66 442.28,67.08 444.66,67.49 447.04,67.90 449.42,68.31 451.80,68.71 454.18,69.12 456.57,69.53 458.95,69.94 461.33,70.36 463.71,70.78 466.09,71.22 468.47,71.66 470.85,72.12 473.24,72.59 475.62,73.08 478.00,73.58 480.38,74.11 482.76,74.65 485.14,75.22 487.52,75.80 489.91,76.42 492.29,77.06 494.67,77.73 497.05,78.44 499.43,79.17 501.81,79.94 504.19,80.74 506.57,81.59 508.96,82.47 511.34,83.39 513.72,84.35 516.10,85.36" fill="none" stroke="#1a1a1a" stroke-width="0.9"/><polyline points="375.60,53.34 377.98,54.56 380.36,55.72 382.74,56.83 385.13,57.90 387.51,58.92 389.89,59.89 392.27,60.82 394.65,61.71 397.03,62.57 399.41,63.38 401.79,64.16 404.18,64.90 406.56,65.61 408.94,66.29 411.32,66.94 413.70,67.56 416.08,68.16 418.46,68.73 420.85,69.28 423.23,69.81 425.61,70.32 427.99,70.81 430.37,71.28 432.75,71.75 435.13,72.19 437.52,72.63 439.90,73.06 442.28,73.48 444.66,73.89 447.04,74.30 449.42,74.71 451.80,75.11 454.18,75.52 456.57,75.93 458.95,76.34 461.33,76.76 463.71,77.18 466.09,77.62 468.47,78.06 470.85,78.52 473.24,78.99 475.62,79.48 478.00,79.98 480.38,80.51 482.76,81.05 485.14,81.62 487.52,82.20 489.91,82.82 492.29,83.46 494.67,84.13 497.05,84.84 499.43,85.57 501.81,86.34 504.19,87.14 506.57,87.99 508.96,88.87 511.34,89.79 513.72,90.75 516.10,91.76" fill="none" stroke="#1a1a1a" stroke-width="0.9"/><circle cx="403.90" cy="21.10" r="1.65" fill="#e02020"/><circle cx="388.20" cy="29.60" r="1.65" fill="#e02020"/><circle cx="398.00" cy="40.10" r="1.65" fill="#e02020"/><circle cx="382.30" cy="51.00" r="1.65" fill="#e02020"/><circle cx="401.00" cy="51.20" r="1.65" fill="#e02020"/><circle cx="399.00" cy="63.10" r="1.65" fill="#e02020"/><circle cx="419.60" cy="57.30" r="1.65" fill="#e02020"/><circle cx="423.50" cy="71.20" r="1.65" fill="#e02020"/><circle cx="434.50" cy="68.80" r="1.65" fill="#e02020"/><circle cx="420.20" cy="57.90" r="1.65" fill="#e02020"/><circle cx="396.50" cy="46.50" r="1.65" fill="#1c1090"/><circle cx="412.90" cy="51.20" r="1.65" fill="#40c8d0"/><circle cx="422.00" cy="74.30" r="1.65" fill="#40c8d0"/><circle cx="413.90" cy="50.90" r="1.65" fill="#40c8d0"/><path d="M379.90 43.85L381.85 47.26L377.95 47.26Z" fill="#0c6a30"/><path d="M387.70 43.65L389.65 47.06L385.75 47.06Z" fill="#0c6a30"/><path d="M395.50 42.75L397.45 46.16L393.55 46.16Z" fill="#0c6a30"/><path d="M384.80 51.35L386.75 54.76L382.85 54.76Z" fill="#0c6a30"/><path d="M384.80 56.25L386.75 59.66L382.85 59.66Z" fill="#0c6a30"/><path d="M393.60 53.85L395.55 57.26L391.65 57.26Z" fill="#0c6a30"/><path d="M402.40 56.25L404.35 59.66L400.45 59.66Z" fill="#0c6a30"/><path d="M410.70 54.35L412.65 57.76L408.75 57.76Z" fill="#0c6a30"/><path d="M402.40 55.85L404.35 59.26L400.45 59.26Z" fill="#0c6a30"/><path d="M411.00 54.35L412.95 57.76L409.05 57.76Z" fill="#0c6a30"/><path d="M415.70 51.95L417.65 55.36L413.75 55.36Z" fill="#0c6a30"/><path d="M418.80 60.55L420.75 63.96L416.85 63.96Z" fill="#0c6a30"/><path d="M410.80 54.45L412.75 57.86L408.85 57.86Z" fill="#0c6a30"/><path d="M418.60 60.65L420.55 64.06L416.65 64.06Z" fill="#0c6a30"/><path d="M387.70 46.60L389.30 48.20L387.70 49.80L386.10 48.20Z" fill="#000000"/><path d="M390.20 45.00L391.80 46.60L390.20 48.20L388.60 46.60Z" fill="#000000"/><path d="M396.00 50.30L397.60 51.90L396.00 53.50L394.40 51.90Z" fill="#000000"/><path d="M394.60 58.10L396.20 59.70L394.60 61.30L393.00 59.70Z" fill="#000000"/><path d="M435.10 54.20L436.70 55.80L435.10 57.40L433.50 55.80Z" fill="#000000"/><path d="M446.50 57.90L448.10 59.50L446.50 61.10L444.90 59.50Z" fill="#000000"/><rect x="375.30" y="33.80" width="3.20" height="3.20" fill="#d020d0"/><rect x="380.20" y="34.20" width="3.20" height="3.20" fill="#d020d0"/><rect x="375.80" y="36.30" width="3.20" height="3.20" fill="#d020d0"/><rect x="380.70" y="36.70" width="3.20" height="3.20" fill="#d020d0"/><rect x="397.40" y="32.80" width="3.20" height="3.20" fill="#d020d0"/><rect x="399.80" y="38.70" width="3.20" height="3.20" fill="#d020d0"/><rect x="403.80" y="41.10" width="3.20" height="3.20" fill="#d020d0"/><rect x="383.20" y="42.60" width="3.20" height="3.20" fill="#d020d0"/><rect x="392.50" y="49.90" width="3.20" height="3.20" fill="#d020d0"/><rect x="392.00" y="49.80" width="3.20" height="3.20" fill="#d020d0"/><rect x="376.00" y="31.20" width="3.20" height="3.20" fill="#d020d0"/><rect x="377.00" y="35.20" width="3.20" height="3.20" fill="#d020d0"/><rect x="378.60" y="32.60" width="3.20" height="3.20" fill="#d020d0"/><rect x="381.45" y="27.25" width="2.70" height="2.70" fill="#fff" stroke="#2a2a2a" stroke-width="0.75"/><rect x="387.85" y="38.85" width="2.70" height="2.70" fill="#fff" stroke="#2a2a2a" stroke-width="0.75"/><rect x="404.05" y="38.85" width="2.70" height="2.70" fill="#fff" stroke="#2a2a2a" stroke-width="0.75"/><rect x="405.45" y="44.75" width="2.70" height="2.70" fill="#fff" stroke="#2a2a2a" stroke-width="0.75"/><rect x="387.35" y="54.95" width="2.70" height="2.70" fill="#fff" stroke="#2a2a2a" stroke-width="0.75"/><rect x="395.65" y="58.85" width="2.70" height="2.70" fill="#fff" stroke="#2a2a2a" stroke-width="0.75"/><rect x="440.85" y="40.15" width="2.70" height="2.70" fill="#fff" stroke="#2a2a2a" stroke-width="0.75"/><rect x="461.25" y="43.25" width="2.70" height="2.70" fill="#fff" stroke="#2a2a2a" stroke-width="0.75"/><rect x="414.15" y="44.05" width="2.70" height="2.70" fill="#fff" stroke="#2a2a2a" stroke-width="0.75"/><rect x="418.05" y="45.65" width="2.70" height="2.70" fill="#fff" stroke="#2a2a2a" stroke-width="0.75"/><rect x="433.15" y="49.05" width="2.70" height="2.70" fill="#fff" stroke="#2a2a2a" stroke-width="0.75"/><rect x="441.45" y="53.45" width="2.70" height="2.70" fill="#fff" stroke="#2a2a2a" stroke-width="0.75"/><rect x="447.95" y="60.45" width="2.70" height="2.70" fill="#fff" stroke="#2a2a2a" stroke-width="0.75"/><rect x="436.25" y="61.15" width="2.70" height="2.70" fill="#fff" stroke="#2a2a2a" stroke-width="0.75"/><rect x="438.85" y="61.45" width="2.70" height="2.70" fill="#fff" stroke="#2a2a2a" stroke-width="0.75"/><rect x="437.05" y="65.95" width="2.70" height="2.70" fill="#fff" stroke="#2a2a2a" stroke-width="0.75"/><rect x="445.75" y="64.55" width="2.70" height="2.70" fill="#fff" stroke="#2a2a2a" stroke-width="0.75"/><rect x="441.75" y="69.25" width="2.70" height="2.70" fill="#fff" stroke="#2a2a2a" stroke-width="0.75"/><rect x="457.05" y="68.15" width="2.70" height="2.70" fill="#fff" stroke="#2a2a2a" stroke-width="0.75"/><rect x="474.85" y="59.85" width="2.70" height="2.70" fill="#fff" stroke="#2a2a2a" stroke-width="0.75"/><rect x="414.05" y="44.85" width="2.70" height="2.70" fill="#fff" stroke="#2a2a2a" stroke-width="0.75"/><rect x="485.5" y="16.6" width="29.2" height="50.8" fill="#fff" stroke="#8a8a8a" stroke-width="0.7"/><circle cx="488.80" cy="21.00" r="1.57" fill="#e02020"/><text x="492.1" y="22.7" font-size="4.75" letter-spacing="0.12" fill="#2a2a2a" stroke="#2a2a2a" stroke-width="0.06">FA</text><circle cx="488.80" cy="28.07" r="1.57" fill="#1c1090"/><text x="492.1" y="29.8" font-size="4.75" letter-spacing="0.12" fill="#2a2a2a" stroke="#2a2a2a" stroke-width="0.06">FA BMT</text><circle cx="488.80" cy="35.14" r="1.57" fill="#40c8d0"/><text x="492.1" y="36.8" font-size="4.75" letter-spacing="0.12" fill="#2a2a2a" stroke="#2a2a2a" stroke-width="0.06">FA Mosaic</text><path d="M488.80 40.36L490.65 43.60L486.95 43.60Z" fill="#0c6a30"/><text x="492.1" y="43.9" font-size="4.75" letter-spacing="0.12" fill="#2a2a2a" stroke="#2a2a2a" stroke-width="0.06">DBA</text><path d="M488.80 48.00L490.08 49.28L488.80 50.56L487.52 49.28Z" fill="#000000"/><text x="492.1" y="51.0" font-size="4.75" letter-spacing="0.12" fill="#2a2a2a" stroke="#2a2a2a" stroke-width="0.06">SDS</text><rect x="487.28" y="54.83" width="3.04" height="3.04" fill="#d020d0"/><text x="492.1" y="58.1" font-size="4.75" letter-spacing="0.12" fill="#2a2a2a" stroke="#2a2a2a" stroke-width="0.06">Other</text><rect x="487.52" y="62.14" width="2.56" height="2.56" fill="#fff" stroke="#2a2a2a" stroke-width="0.75"/><text x="492.1" y="65.1" font-size="4.75" letter-spacing="0.12" fill="#2a2a2a" stroke="#2a2a2a" stroke-width="0.06">Rels</text></g>
<g><line x1="19.2" y1="236.3" x2="160.6" y2="236.3" stroke="#9a9a9a" stroke-width="0.8"/><line x1="19.2" y1="223.9" x2="160.6" y2="223.9" stroke="#9a9a9a" stroke-width="0.8"/><line x1="19.2" y1="211.5" x2="160.6" y2="211.5" stroke="#9a9a9a" stroke-width="0.8"/><line x1="19.2" y1="199.1" x2="160.6" y2="199.1" stroke="#9a9a9a" stroke-width="0.8"/><line x1="19.2" y1="186.8" x2="160.6" y2="186.8" stroke="#9a9a9a" stroke-width="0.8"/><line x1="19.2" y1="174.4" x2="160.6" y2="174.4" stroke="#9a9a9a" stroke-width="0.8"/><line x1="19.2" y1="162.0" x2="160.6" y2="162.0" stroke="#9a9a9a" stroke-width="0.8"/><line x1="19.2" y1="149.6" x2="160.6" y2="149.6" stroke="#9a9a9a" stroke-width="0.8"/><line x1="160.6" y1="149.6" x2="160.6" y2="236.3" stroke="#9a9a9a" stroke-width="0.8"/><line x1="19.2" y1="149.6" x2="19.2" y2="236.7" stroke="#8a8a8a" stroke-width="0.9"/><line x1="18.8" y1="236.3" x2="160.6" y2="236.3" stroke="#8a8a8a" stroke-width="0.9"/><line x1="17.9" y1="236.3" x2="19.2" y2="236.3" stroke="#8a8a8a" stroke-width="0.8"/><line x1="17.9" y1="223.9" x2="19.2" y2="223.9" stroke="#8a8a8a" stroke-width="0.8"/><line x1="17.9" y1="211.5" x2="19.2" y2="211.5" stroke="#8a8a8a" stroke-width="0.8"/><line x1="17.9" y1="199.1" x2="19.2" y2="199.1" stroke="#8a8a8a" stroke-width="0.8"/><line x1="17.9" y1="186.8" x2="19.2" y2="186.8" stroke="#8a8a8a" stroke-width="0.8"/><line x1="17.9" y1="174.4" x2="19.2" y2="174.4" stroke="#8a8a8a" stroke-width="0.8"/><line x1="17.9" y1="162.0" x2="19.2" y2="162.0" stroke="#8a8a8a" stroke-width="0.8"/><line x1="17.9" y1="149.6" x2="19.2" y2="149.6" stroke="#8a8a8a" stroke-width="0.8"/><line x1="19.2" y1="235.3" x2="19.2" y2="237.6" stroke="#8a8a8a" stroke-width="0.8"/><line x1="47.5" y1="235.3" x2="47.5" y2="237.6" stroke="#8a8a8a" stroke-width="0.8"/><line x1="75.8" y1="235.3" x2="75.8" y2="237.6" stroke="#8a8a8a" stroke-width="0.8"/><line x1="104.0" y1="235.3" x2="104.0" y2="237.6" stroke="#8a8a8a" stroke-width="0.8"/><line x1="132.3" y1="235.3" x2="132.3" y2="237.6" stroke="#8a8a8a" stroke-width="0.8"/><line x1="160.6" y1="235.3" x2="160.6" y2="237.6" stroke="#8a8a8a" stroke-width="0.8"/><text x="15.9" y="237.90" font-size="4.5" text-anchor="end" fill="#383838" stroke="#383838" stroke-width="0.14">0.0</text><text x="15.9" y="225.51" font-size="4.5" text-anchor="end" fill="#383838" stroke="#383838" stroke-width="0.14">2.0</text><text x="15.9" y="213.13" font-size="4.5" text-anchor="end" fill="#383838" stroke="#383838" stroke-width="0.14">4.0</text><text x="15.9" y="200.74" font-size="4.5" text-anchor="end" fill="#383838" stroke="#383838" stroke-width="0.14">6.0</text><text x="15.9" y="188.36" font-size="4.5" text-anchor="end" fill="#383838" stroke="#383838" stroke-width="0.14">8.0</text><text x="15.9" y="175.97" font-size="4.5" text-anchor="end" fill="#383838" stroke="#383838" stroke-width="0.14">10.0</text><text x="15.9" y="163.59" font-size="4.5" text-anchor="end" fill="#383838" stroke="#383838" stroke-width="0.14">12.0</text><text x="15.9" y="151.20" font-size="4.5" text-anchor="end" fill="#383838" stroke="#383838" stroke-width="0.14">14.0</text><text x="19.7" y="245.4" font-size="4.6" text-anchor="middle" fill="#333" stroke="#333" stroke-width="0.16">0</text><text x="48.0" y="245.4" font-size="4.6" text-anchor="middle" fill="#333" stroke="#333" stroke-width="0.16">20</text><text x="76.3" y="245.4" font-size="4.6" text-anchor="middle" fill="#333" stroke="#333" stroke-width="0.16">40</text><text x="104.5" y="245.4" font-size="4.6" text-anchor="middle" fill="#333" stroke="#333" stroke-width="0.16">60</text><text x="132.8" y="245.4" font-size="4.6" text-anchor="middle" fill="#333" stroke="#333" stroke-width="0.16">80</text><text x="161.1" y="245.4" font-size="4.6" text-anchor="middle" fill="#333" stroke="#333" stroke-width="0.16">100</text><text x="90.5" y="254.2" font-size="5.0" font-weight="bold" text-anchor="middle" fill="#000" stroke="#000" stroke-width="0.22">Age, years</text><text transform="translate(4.5,192.9) rotate(-90)" x="0" y="0" font-size="4.72" font-weight="bold" text-anchor="middle" fill="#000" stroke="#000" stroke-width="0.22">Telomere Length, kb</text><text x="81.7" y="138.6" font-size="7.1" font-weight="bold" text-anchor="middle" fill="#000" stroke="#000" stroke-width="0.2">Memory T-Cells</text><polyline points="19.20,162.27 21.60,164.35 23.99,166.30 26.39,168.13 28.79,169.84 31.18,171.45 33.58,172.94 35.98,174.34 38.37,175.64 40.77,176.85 43.17,177.97 45.56,179.01 47.96,179.97 50.36,180.86 52.75,181.67 55.15,182.42 57.55,183.10 59.94,183.73 62.34,184.30 64.74,184.83 67.13,185.30 69.53,185.74 71.93,186.13 74.32,186.49 76.72,186.81 79.12,187.11 81.51,187.38 83.91,187.63 86.31,187.87 88.70,188.08 91.10,188.29 93.49,188.49 95.89,188.68 98.29,188.87 100.68,189.05 103.08,189.25 105.48,189.44 107.87,189.65 110.27,189.87 112.67,190.10 115.06,190.35 117.46,190.61 119.86,190.90 122.25,191.21 124.65,191.55 127.05,191.92 129.44,192.32 131.84,192.75 134.24,193.21 136.63,193.72 139.03,194.26 141.43,194.84 143.82,195.47 146.22,196.13 148.62,196.85 151.01,197.61 153.41,198.42 155.81,199.29 158.20,200.20 160.60,201.17" fill="none" stroke="#1a1a1a" stroke-width="0.9"/><polyline points="19.20,168.47 21.60,170.55 23.99,172.50 26.39,174.33 28.79,176.04 31.18,177.65 33.58,179.14 35.98,180.54 38.37,181.84 40.77,183.05 43.17,184.17 45.56,185.21 47.96,186.17 50.36,187.06 52.75,187.87 55.15,188.62 57.55,189.30 59.94,189.93 62.34,190.50 64.74,191.03 67.13,191.50 69.53,191.94 71.93,192.33 74.32,192.69 76.72,193.01 79.12,193.31 81.51,193.58 83.91,193.83 86.31,194.07 88.70,194.28 91.10,194.49 93.49,194.69 95.89,194.88 98.29,195.07 100.68,195.25 103.08,195.45 105.48,195.64 107.87,195.85 110.27,196.07 112.67,196.30 115.06,196.55 117.46,196.81 119.86,197.10 122.25,197.41 124.65,197.75 127.05,198.12 129.44,198.52 131.84,198.95 134.24,199.41 136.63,199.92 139.03,200.46 141.43,201.04 143.82,201.67 146.22,202.33 148.62,203.05 151.01,203.81 153.41,204.62 155.81,205.49 158.20,206.40 160.60,207.37" fill="none" stroke="#1a1a1a" stroke-width="0.9"/><polyline points="19.20,175.67 21.60,177.75 23.99,179.70 26.39,181.53 28.79,183.24 31.18,184.85 33.58,186.34 35.98,187.74 38.37,189.04 40.77,190.25 43.17,191.37 45.56,192.41 47.96,193.37 50.36,194.26 52.75,195.07 55.15,195.82 57.55,196.50 59.94,197.13 62.34,197.70 64.74,198.23 67.13,198.70 69.53,199.14 71.93,199.53 74.32,199.89 76.72,200.21 79.12,200.51 81.51,200.78 83.91,201.03 86.31,201.27 88.70,201.48 91.10,201.69 93.49,201.89 95.89,202.08 98.29,202.27 100.68,202.45 103.08,202.65 105.48,202.84 107.87,203.05 110.27,203.27 112.67,203.50 115.06,203.75 117.46,204.01 119.86,204.30 122.25,204.61 124.65,204.95 127.05,205.32 129.44,205.72 131.84,206.15 134.24,206.61 136.63,207.12 139.03,207.66 141.43,208.24 143.82,208.87 146.22,209.53 148.62,210.25 151.01,211.01 153.41,211.82 155.81,212.69 158.20,213.60 160.60,214.57" fill="none" stroke="#1a1a1a" stroke-width="0.9"/><polyline points="19.20,182.87 21.60,184.95 23.99,186.90 26.39,188.73 28.79,190.44 31.18,192.05 33.58,193.54 35.98,194.94 38.37,196.24 40.77,197.45 43.17,198.57 45.56,199.61 47.96,200.57 50.36,201.46 52.75,202.27 55.15,203.02 57.55,203.70 59.94,204.33 62.34,204.90 64.74,205.43 67.13,205.90 69.53,206.34 71.93,206.73 74.32,207.09 76.72,207.41 79.12,207.71 81.51,207.98 83.91,208.23 86.31,208.47 88.70,208.68 91.10,208.89 93.49,209.09 95.89,209.28 98.29,209.47 100.68,209.65 103.08,209.85 105.48,210.04 107.87,210.25 110.27,210.47 112.67,210.70 115.06,210.95 117.46,211.21 119.86,211.50 122.25,211.81 124.65,212.15 127.05,212.52 129.44,212.92 131.84,213.35 134.24,213.81 136.63,214.32 139.03,214.86 141.43,215.44 143.82,216.07 146.22,216.73 148.62,217.45 151.01,218.21 153.41,219.02 155.81,219.89 158.20,220.80 160.60,221.77" fill="none" stroke="#1a1a1a" stroke-width="0.9"/><polyline points="19.20,188.57 21.60,190.65 23.99,192.60 26.39,194.43 28.79,196.14 31.18,197.75 33.58,199.24 35.98,200.64 38.37,201.94 40.77,203.15 43.17,204.27 45.56,205.31 47.96,206.27 50.36,207.16 52.75,207.97 55.15,208.72 57.55,209.40 59.94,210.03 62.34,210.60 64.74,211.13 67.13,211.60 69.53,212.04 71.93,212.43 74.32,212.79 76.72,213.11 79.12,213.41 81.51,213.68 83.91,213.93 86.31,214.17 88.70,214.38 91.10,214.59 93.49,214.79 95.89,214.98 98.29,215.17 100.68,215.35 103.08,215.55 105.48,215.74 107.87,215.95 110.27,216.17 112.67,216.40 115.06,216.65 117.46,216.91 119.86,217.20 122.25,217.51 124.65,217.85 127.05,218.22 129.44,218.62 131.84,219.05 134.24,219.51 136.63,220.02 139.03,220.56 141.43,221.14 143.82,221.77 146.22,222.43 148.62,223.15 151.01,223.91 153.41,224.72 155.81,225.59 158.20,226.50 160.60,227.47" fill="none" stroke="#1a1a1a" stroke-width="0.9"/><circle cx="47.60" cy="168.20" r="1.65" fill="#e02020"/><circle cx="31.80" cy="175.30" r="1.65" fill="#e02020"/><circle cx="41.00" cy="187.70" r="1.65" fill="#e02020"/><circle cx="44.90" cy="195.20" r="1.65" fill="#e02020"/><circle cx="62.90" cy="196.30" r="1.65" fill="#e02020"/><circle cx="43.00" cy="204.30" r="1.65" fill="#e02020"/><circle cx="78.80" cy="206.00" r="1.65" fill="#e02020"/><circle cx="40.50" cy="183.90" r="1.65" fill="#1c1090"/><circle cx="57.00" cy="194.80" r="1.65" fill="#40c8d0"/><circle cx="55.40" cy="197.20" r="1.65" fill="#40c8d0"/><path d="M29.50 182.75L31.45 186.16L27.55 186.16Z" fill="#0c6a30"/><path d="M22.90 183.85L24.85 187.26L20.95 187.26Z" fill="#0c6a30"/><path d="M26.90 194.25L28.85 197.66L24.95 197.66Z" fill="#0c6a30"/><path d="M46.40 197.45L48.35 200.86L44.45 200.86Z" fill="#0c6a30"/><path d="M60.10 197.45L62.05 200.86L58.15 200.86Z" fill="#0c6a30"/><path d="M65.00 202.35L66.95 205.76L63.05 205.76Z" fill="#0c6a30"/><path d="M78.80 192.85L80.75 196.26L76.85 196.26Z" fill="#0c6a30"/><path d="M60.80 197.65L62.75 201.06L58.85 201.06Z" fill="#0c6a30"/><path d="M65.50 203.25L67.45 206.66L63.55 206.66Z" fill="#0c6a30"/><path d="M31.70 185.70L33.30 187.30L31.70 188.90L30.10 187.30Z" fill="#000000"/><path d="M35.10 184.70L36.70 186.30L35.10 187.90L33.50 186.30Z" fill="#000000"/><path d="M36.10 191.50L37.70 193.10L36.10 194.70L34.50 193.10Z" fill="#000000"/><path d="M37.60 199.20L39.20 200.80L37.60 202.40L36.00 200.80Z" fill="#000000"/><path d="M79.60 200.00L81.20 201.60L79.60 203.20L78.00 201.60Z" fill="#000000"/><path d="M67.80 205.20L69.40 206.80L67.80 208.40L66.20 206.80Z" fill="#000000"/><rect x="19.40" y="167.80" width="3.20" height="3.20" fill="#d020d0"/><rect x="19.70" y="171.30" width="3.20" height="3.20" fill="#d020d0"/><rect x="24.80" y="173.70" width="3.20" height="3.20" fill="#d020d0"/><rect x="24.80" y="178.40" width="3.20" height="3.20" fill="#d020d0"/><rect x="41.30" y="175.30" width="3.20" height="3.20" fill="#d020d0"/><rect x="44.30" y="182.70" width="3.20" height="3.20" fill="#d020d0"/><rect x="46.80" y="183.20" width="3.20" height="3.20" fill="#d020d0"/><rect x="36.00" y="188.10" width="3.20" height="3.20" fill="#d020d0"/><rect x="26.70" y="189.30" width="3.20" height="3.20" fill="#d020d0"/><rect x="25.05" y="168.45" width="2.70" height="2.70" fill="#fff" stroke="#2a2a2a" stroke-width="0.75"/><rect x="31.55" y="177.95" width="2.70" height="2.70" fill="#fff" stroke="#2a2a2a" stroke-width="0.75"/><rect x="42.25" y="181.05" width="2.70" height="2.70" fill="#fff" stroke="#2a2a2a" stroke-width="0.75"/><rect x="48.95" y="187.35" width="2.70" height="2.70" fill="#fff" stroke="#2a2a2a" stroke-width="0.75"/><rect x="61.75" y="190.85" width="2.70" height="2.70" fill="#fff" stroke="#2a2a2a" stroke-width="0.75"/><rect x="57.85" y="189.85" width="2.70" height="2.70" fill="#fff" stroke="#2a2a2a" stroke-width="0.75"/><rect x="30.85" y="195.05" width="2.70" height="2.70" fill="#fff" stroke="#2a2a2a" stroke-width="0.75"/><rect x="38.65" y="196.55" width="2.70" height="2.70" fill="#fff" stroke="#2a2a2a" stroke-width="0.75"/><rect x="85.35" y="186.35" width="2.70" height="2.70" fill="#fff" stroke="#2a2a2a" stroke-width="0.75"/><rect x="84.55" y="191.15" width="2.70" height="2.70" fill="#fff" stroke="#2a2a2a" stroke-width="0.75"/><rect x="82.95" y="195.95" width="2.70" height="2.70" fill="#fff" stroke="#2a2a2a" stroke-width="0.75"/><rect x="104.95" y="187.95" width="2.70" height="2.70" fill="#fff" stroke="#2a2a2a" stroke-width="0.75"/><rect x="85.35" y="200.25" width="2.70" height="2.70" fill="#fff" stroke="#2a2a2a" stroke-width="0.75"/><rect x="90.05" y="198.65" width="2.70" height="2.70" fill="#fff" stroke="#2a2a2a" stroke-width="0.75"/><rect x="92.35" y="203.85" width="2.70" height="2.70" fill="#fff" stroke="#2a2a2a" stroke-width="0.75"/><rect x="81.35" y="206.15" width="2.70" height="2.70" fill="#fff" stroke="#2a2a2a" stroke-width="0.75"/><rect x="101.05" y="206.95" width="2.70" height="2.70" fill="#fff" stroke="#2a2a2a" stroke-width="0.75"/><rect x="119.25" y="201.55" width="2.70" height="2.70" fill="#fff" stroke="#2a2a2a" stroke-width="0.75"/><rect x="130.0" y="149.7" width="29.4" height="42.7" fill="#fff" stroke="#8a8a8a" stroke-width="0.7"/><circle cx="133.20" cy="153.80" r="1.57" fill="#e02020"/><text x="135.9" y="155.5" font-size="4.75" letter-spacing="0.12" fill="#2a2a2a" stroke="#2a2a2a" stroke-width="0.06">FA</text><circle cx="133.20" cy="159.63" r="1.57" fill="#1c1090"/><text x="135.9" y="161.3" font-size="4.75" letter-spacing="0.12" fill="#2a2a2a" stroke="#2a2a2a" stroke-width="0.06">FA BMT</text><circle cx="133.20" cy="165.46" r="1.57" fill="#40c8d0"/><text x="135.9" y="167.2" font-size="4.75" letter-spacing="0.12" fill="#2a2a2a" stroke="#2a2a2a" stroke-width="0.06">FA Mosaic</text><path d="M133.20 169.44L135.05 172.68L131.35 172.68Z" fill="#0c6a30"/><text x="135.9" y="173.0" font-size="4.75" letter-spacing="0.12" fill="#2a2a2a" stroke="#2a2a2a" stroke-width="0.06">DBA</text><path d="M133.20 175.84L134.48 177.12L133.20 178.40L131.92 177.12Z" fill="#000000"/><text x="135.9" y="178.8" font-size="4.75" letter-spacing="0.12" fill="#2a2a2a" stroke="#2a2a2a" stroke-width="0.06">SDS</text><rect x="131.68" y="181.43" width="3.04" height="3.04" fill="#d020d0"/><text x="135.9" y="184.7" font-size="4.75" letter-spacing="0.12" fill="#2a2a2a" stroke="#2a2a2a" stroke-width="0.06">Other</text><rect x="131.92" y="187.50" width="2.56" height="2.56" fill="#fff" stroke="#2a2a2a" stroke-width="0.75"/><text x="135.9" y="190.5" font-size="4.75" letter-spacing="0.12" fill="#2a2a2a" stroke="#2a2a2a" stroke-width="0.06">Rels</text></g>
<g><line x1="198.5" y1="236.8" x2="339.7" y2="236.8" stroke="#9a9a9a" stroke-width="0.8"/><line x1="198.5" y1="224.3" x2="339.7" y2="224.3" stroke="#9a9a9a" stroke-width="0.8"/><line x1="198.5" y1="211.9" x2="339.7" y2="211.9" stroke="#9a9a9a" stroke-width="0.8"/><line x1="198.5" y1="199.4" x2="339.7" y2="199.4" stroke="#9a9a9a" stroke-width="0.8"/><line x1="198.5" y1="187.0" x2="339.7" y2="187.0" stroke="#9a9a9a" stroke-width="0.8"/><line x1="198.5" y1="174.5" x2="339.7" y2="174.5" stroke="#9a9a9a" stroke-width="0.8"/><line x1="198.5" y1="162.1" x2="339.7" y2="162.1" stroke="#9a9a9a" stroke-width="0.8"/><line x1="198.5" y1="149.6" x2="339.7" y2="149.6" stroke="#9a9a9a" stroke-width="0.8"/><line x1="339.7" y1="149.6" x2="339.7" y2="236.8" stroke="#9a9a9a" stroke-width="0.8"/><line x1="198.5" y1="149.6" x2="198.5" y2="237.2" stroke="#8a8a8a" stroke-width="0.9"/><line x1="198.1" y1="236.8" x2="339.7" y2="236.8" stroke="#8a8a8a" stroke-width="0.9"/><line x1="197.2" y1="236.8" x2="198.5" y2="236.8" stroke="#8a8a8a" stroke-width="0.8"/><line x1="197.2" y1="224.3" x2="198.5" y2="224.3" stroke="#8a8a8a" stroke-width="0.8"/><line x1="197.2" y1="211.9" x2="198.5" y2="211.9" stroke="#8a8a8a" stroke-width="0.8"/><line x1="197.2" y1="199.4" x2="198.5" y2="199.4" stroke="#8a8a8a" stroke-width="0.8"/><line x1="197.2" y1="187.0" x2="198.5" y2="187.0" stroke="#8a8a8a" stroke-width="0.8"/><line x1="197.2" y1="174.5" x2="198.5" y2="174.5" stroke="#8a8a8a" stroke-width="0.8"/><line x1="197.2" y1="162.1" x2="198.5" y2="162.1" stroke="#8a8a8a" stroke-width="0.8"/><line x1="197.2" y1="149.6" x2="198.5" y2="149.6" stroke="#8a8a8a" stroke-width="0.8"/><line x1="198.5" y1="235.8" x2="198.5" y2="238.1" stroke="#8a8a8a" stroke-width="0.8"/><line x1="226.7" y1="235.8" x2="226.7" y2="238.1" stroke="#8a8a8a" stroke-width="0.8"/><line x1="255.0" y1="235.8" x2="255.0" y2="238.1" stroke="#8a8a8a" stroke-width="0.8"/><line x1="283.2" y1="235.8" x2="283.2" y2="238.1" stroke="#8a8a8a" stroke-width="0.8"/><line x1="311.5" y1="235.8" x2="311.5" y2="238.1" stroke="#8a8a8a" stroke-width="0.8"/><line x1="339.7" y1="235.8" x2="339.7" y2="238.1" stroke="#8a8a8a" stroke-width="0.8"/><text x="195.2" y="238.40" font-size="4.5" text-anchor="end" fill="#383838" stroke="#383838" stroke-width="0.14">0.0</text><text x="195.2" y="225.94" font-size="4.5" text-anchor="end" fill="#383838" stroke="#383838" stroke-width="0.14">2.0</text><text x="195.2" y="213.49" font-size="4.5" text-anchor="end" fill="#383838" stroke="#383838" stroke-width="0.14">4.0</text><text x="195.2" y="201.03" font-size="4.5" text-anchor="end" fill="#383838" stroke="#383838" stroke-width="0.14">6.0</text><text x="195.2" y="188.57" font-size="4.5" text-anchor="end" fill="#383838" stroke="#383838" stroke-width="0.14">8.0</text><text x="195.2" y="176.11" font-size="4.5" text-anchor="end" fill="#383838" stroke="#383838" stroke-width="0.14">10.0</text><text x="195.2" y="163.66" font-size="4.5" text-anchor="end" fill="#383838" stroke="#383838" stroke-width="0.14">12.0</text><text x="195.2" y="151.20" font-size="4.5" text-anchor="end" fill="#383838" stroke="#383838" stroke-width="0.14">14.0</text><text x="199.0" y="245.9" font-size="4.6" text-anchor="middle" fill="#333" stroke="#333" stroke-width="0.16">0</text><text x="227.2" y="245.9" font-size="4.6" text-anchor="middle" fill="#333" stroke="#333" stroke-width="0.16">20</text><text x="255.5" y="245.9" font-size="4.6" text-anchor="middle" fill="#333" stroke="#333" stroke-width="0.16">40</text><text x="283.7" y="245.9" font-size="4.6" text-anchor="middle" fill="#333" stroke="#333" stroke-width="0.16">60</text><text x="312.0" y="245.9" font-size="4.6" text-anchor="middle" fill="#333" stroke="#333" stroke-width="0.16">80</text><text x="340.2" y="245.9" font-size="4.6" text-anchor="middle" fill="#333" stroke="#333" stroke-width="0.16">100</text><text x="269.7" y="254.7" font-size="5.0" font-weight="bold" text-anchor="middle" fill="#000" stroke="#000" stroke-width="0.22">Age, years</text><text transform="translate(183.8,193.2) rotate(-90)" x="0" y="0" font-size="4.72" font-weight="bold" text-anchor="middle" fill="#000" stroke="#000" stroke-width="0.22">Telomere Length, kb</text><text x="261.2" y="138.8" font-size="7.1" font-weight="bold" text-anchor="middle" fill="#000" stroke="#000" stroke-width="0.2">B-Cells</text><polyline points="198.50,160.11 200.89,161.18 203.29,162.19 205.68,163.14 208.07,164.04 210.47,164.89 212.86,165.69 215.25,166.44 217.65,167.15 220.04,167.81 222.43,168.43 224.83,169.00 227.22,169.54 229.61,170.04 232.01,170.51 234.40,170.94 236.79,171.34 239.18,171.71 241.58,172.06 243.97,172.37 246.36,172.66 248.76,172.93 251.15,173.18 253.54,173.41 255.94,173.63 258.33,173.82 260.72,174.01 263.12,174.18 265.51,174.34 267.90,174.50 270.30,174.65 272.69,174.79 275.08,174.93 277.48,175.08 279.87,175.22 282.26,175.36 284.66,175.51 287.05,175.67 289.44,175.84 291.84,176.01 294.23,176.20 296.62,176.41 299.02,176.62 301.41,176.86 303.80,177.12 306.19,177.39 308.59,177.69 310.98,178.02 313.37,178.37 315.77,178.75 318.16,179.16 320.55,179.60 322.95,180.08 325.34,180.59 327.73,181.14 330.13,181.73 332.52,182.37 334.91,183.04 337.31,183.76 339.70,184.53" fill="none" stroke="#1a1a1a" stroke-width="0.9"/><polyline points="198.50,167.11 200.89,168.18 203.29,169.19 205.68,170.14 208.07,171.04 210.47,171.89 212.86,172.69 215.25,173.44 217.65,174.15 220.04,174.81 222.43,175.43 224.83,176.00 227.22,176.54 229.61,177.04 232.01,177.51 234.40,177.94 236.79,178.34 239.18,178.71 241.58,179.06 243.97,179.37 246.36,179.66 248.76,179.93 251.15,180.18 253.54,180.41 255.94,180.63 258.33,180.82 260.72,181.01 263.12,181.18 265.51,181.34 267.90,181.50 270.30,181.65 272.69,181.79 275.08,181.93 277.48,182.08 279.87,182.22 282.26,182.36 284.66,182.51 287.05,182.67 289.44,182.84 291.84,183.01 294.23,183.20 296.62,183.41 299.02,183.62 301.41,183.86 303.80,184.12 306.19,184.39 308.59,184.69 310.98,185.02 313.37,185.37 315.77,185.75 318.16,186.16 320.55,186.60 322.95,187.08 325.34,187.59 327.73,188.14 330.13,188.73 332.52,189.37 334.91,190.04 337.31,190.76 339.70,191.53" fill="none" stroke="#1a1a1a" stroke-width="0.9"/><polyline points="198.50,174.61 200.89,175.68 203.29,176.69 205.68,177.64 208.07,178.54 210.47,179.39 212.86,180.19 215.25,180.94 217.65,181.65 220.04,182.31 222.43,182.93 224.83,183.50 227.22,184.04 229.61,184.54 232.01,185.01 234.40,185.44 236.79,185.84 239.18,186.21 241.58,186.56 243.97,186.87 246.36,187.16 248.76,187.43 251.15,187.68 253.54,187.91 255.94,188.13 258.33,188.32 260.72,188.51 263.12,188.68 265.51,188.84 267.90,189.00 270.30,189.15 272.69,189.29 275.08,189.43 277.48,189.58 279.87,189.72 282.26,189.86 284.66,190.01 287.05,190.17 289.44,190.34 291.84,190.51 294.23,190.70 296.62,190.91 299.02,191.12 301.41,191.36 303.80,191.62 306.19,191.89 308.59,192.19 310.98,192.52 313.37,192.87 315.77,193.25 318.16,193.66 320.55,194.10 322.95,194.58 325.34,195.09 327.73,195.64 330.13,196.23 332.52,196.87 334.91,197.54 337.31,198.26 339.70,199.03" fill="none" stroke="#1a1a1a" stroke-width="0.9"/><polyline points="198.50,181.91 200.89,182.98 203.29,183.99 205.68,184.94 208.07,185.84 210.47,186.69 212.86,187.49 215.25,188.24 217.65,188.95 220.04,189.61 222.43,190.23 224.83,190.80 227.22,191.34 229.61,191.84 232.01,192.31 234.40,192.74 236.79,193.14 239.18,193.51 241.58,193.86 243.97,194.17 246.36,194.46 248.76,194.73 251.15,194.98 253.54,195.21 255.94,195.43 258.33,195.62 260.72,195.81 263.12,195.98 265.51,196.14 267.90,196.30 270.30,196.45 272.69,196.59 275.08,196.73 277.48,196.88 279.87,197.02 282.26,197.16 284.66,197.31 287.05,197.47 289.44,197.64 291.84,197.81 294.23,198.00 296.62,198.21 299.02,198.42 301.41,198.66 303.80,198.92 306.19,199.19 308.59,199.49 310.98,199.82 313.37,200.17 315.77,200.55 318.16,200.96 320.55,201.40 322.95,201.88 325.34,202.39 327.73,202.94 330.13,203.53 332.52,204.17 334.91,204.84 337.31,205.56 339.70,206.33" fill="none" stroke="#1a1a1a" stroke-width="0.9"/><polyline points="198.50,187.71 200.89,188.78 203.29,189.79 205.68,190.74 208.07,191.64 210.47,192.49 212.86,193.29 215.25,194.04 217.65,194.75 220.04,195.41 222.43,196.03 224.83,196.60 227.22,197.14 229.61,197.64 232.01,198.11 234.40,198.54 236.79,198.94 239.18,199.31 241.58,199.66 243.97,199.97 246.36,200.26 248.76,200.53 251.15,200.78 253.54,201.01 255.94,201.23 258.33,201.42 260.72,201.61 263.12,201.78 265.51,201.94 267.90,202.10 270.30,202.25 272.69,202.39 275.08,202.53 277.48,202.68 279.87,202.82 282.26,202.96 284.66,203.11 287.05,203.27 289.44,203.44 291.84,203.61 294.23,203.80 296.62,204.01 299.02,204.22 301.41,204.46 303.80,204.72 306.19,204.99 308.59,205.29 310.98,205.62 313.37,205.97 315.77,206.35 318.16,206.76 320.55,207.20 322.95,207.68 325.34,208.19 327.73,208.74 330.13,209.33 332.52,209.97 334.91,210.64 337.31,211.36 339.70,212.13" fill="none" stroke="#1a1a1a" stroke-width="0.9"/><circle cx="226.60" cy="158.30" r="1.65" fill="#e02020"/><circle cx="210.90" cy="168.20" r="1.65" fill="#e02020"/><circle cx="218.10" cy="182.50" r="1.65" fill="#e02020"/><circle cx="223.90" cy="187.20" r="1.65" fill="#e02020"/><circle cx="204.80" cy="188.70" r="1.65" fill="#e02020"/><circle cx="241.40" cy="192.30" r="1.65" fill="#e02020"/><circle cx="222.20" cy="196.20" r="1.65" fill="#e02020"/><circle cx="218.90" cy="179.00" r="1.65" fill="#1c1090"/><circle cx="235.50" cy="185.60" r="1.65" fill="#40c8d0"/><circle cx="245.50" cy="195.30" r="1.65" fill="#40c8d0"/><path d="M209.50 175.35L211.45 178.76L207.55 178.76Z" fill="#0c6a30"/><path d="M201.50 179.65L203.45 183.06L199.55 183.06Z" fill="#0c6a30"/><path d="M233.60 183.55L235.55 186.96L231.65 186.96Z" fill="#0c6a30"/><path d="M243.10 183.65L245.05 187.06L241.15 187.06Z" fill="#0c6a30"/><path d="M206.80 190.05L208.75 193.46L204.85 193.46Z" fill="#0c6a30"/><path d="M238.20 186.25L240.15 189.66L236.25 189.66Z" fill="#0c6a30"/><path d="M241.80 188.35L243.75 191.76L239.85 191.76Z" fill="#0c6a30"/><path d="M217.10 190.65L219.05 194.06L215.15 194.06Z" fill="#0c6a30"/><path d="M225.20 192.75L227.15 196.16L223.25 196.16Z" fill="#0c6a30"/><path d="M259.60 184.75L261.55 188.16L257.65 188.16Z" fill="#0c6a30"/><path d="M242.40 187.05L244.35 190.46L240.45 190.46Z" fill="#0c6a30"/><path d="M212.60 182.00L214.20 183.60L212.60 185.20L211.00 183.60Z" fill="#000000"/><path d="M215.60 187.10L217.20 188.70L215.60 190.30L214.00 188.70Z" fill="#000000"/><path d="M216.90 194.10L218.50 195.70L216.90 197.30L215.30 195.70Z" fill="#000000"/><path d="M257.30 181.90L258.90 183.50L257.30 185.10L255.70 183.50Z" fill="#000000"/><rect x="221.10" y="166.60" width="3.20" height="3.20" fill="#d020d0"/><rect x="198.30" y="170.40" width="3.20" height="3.20" fill="#d020d0"/><rect x="203.40" y="173.90" width="3.20" height="3.20" fill="#d020d0"/><rect x="223.30" y="175.30" width="3.20" height="3.20" fill="#d020d0"/><rect x="216.00" y="178.50" width="3.20" height="3.20" fill="#d020d0"/><rect x="205.90" y="182.00" width="3.20" height="3.20" fill="#d020d0"/><rect x="197.60" y="188.70" width="3.20" height="3.20" fill="#d020d0"/><rect x="204.05" y="166.05" width="2.70" height="2.70" fill="#fff" stroke="#2a2a2a" stroke-width="0.75"/><rect x="221.35" y="169.95" width="2.70" height="2.70" fill="#fff" stroke="#2a2a2a" stroke-width="0.75"/><rect x="212.65" y="173.85" width="2.70" height="2.70" fill="#fff" stroke="#2a2a2a" stroke-width="0.75"/><rect x="226.65" y="174.15" width="2.70" height="2.70" fill="#fff" stroke="#2a2a2a" stroke-width="0.75"/><rect x="228.05" y="178.75" width="2.70" height="2.70" fill="#fff" stroke="#2a2a2a" stroke-width="0.75"/><rect x="236.25" y="178.85" width="2.70" height="2.70" fill="#fff" stroke="#2a2a2a" stroke-width="0.75"/><rect x="239.95" y="176.65" width="2.70" height="2.70" fill="#fff" stroke="#2a2a2a" stroke-width="0.75"/><rect x="241.75" y="183.35" width="2.70" height="2.70" fill="#fff" stroke="#2a2a2a" stroke-width="0.75"/><rect x="209.85" y="186.85" width="2.70" height="2.70" fill="#fff" stroke="#2a2a2a" stroke-width="0.75"/><rect x="217.65" y="190.75" width="2.70" height="2.70" fill="#fff" stroke="#2a2a2a" stroke-width="0.75"/><rect x="212.75" y="190.15" width="2.70" height="2.70" fill="#fff" stroke="#2a2a2a" stroke-width="0.75"/><rect x="240.25" y="197.95" width="2.70" height="2.70" fill="#fff" stroke="#2a2a2a" stroke-width="0.75"/><rect x="264.55" y="162.55" width="2.70" height="2.70" fill="#fff" stroke="#2a2a2a" stroke-width="0.75"/><rect x="263.75" y="177.45" width="2.70" height="2.70" fill="#fff" stroke="#2a2a2a" stroke-width="0.75"/><rect x="284.15" y="176.65" width="2.70" height="2.70" fill="#fff" stroke="#2a2a2a" stroke-width="0.75"/><rect x="269.25" y="185.35" width="2.70" height="2.70" fill="#fff" stroke="#2a2a2a" stroke-width="0.75"/><rect x="259.05" y="188.45" width="2.70" height="2.70" fill="#fff" stroke="#2a2a2a" stroke-width="0.75"/><rect x="267.65" y="188.45" width="2.70" height="2.70" fill="#fff" stroke="#2a2a2a" stroke-width="0.75"/><rect x="280.25" y="190.85" width="2.70" height="2.70" fill="#fff" stroke="#2a2a2a" stroke-width="0.75"/><rect x="269.25" y="193.15" width="2.70" height="2.70" fill="#fff" stroke="#2a2a2a" stroke-width="0.75"/><rect x="259.85" y="196.25" width="2.70" height="2.70" fill="#fff" stroke="#2a2a2a" stroke-width="0.75"/><rect x="261.35" y="186.15" width="2.70" height="2.70" fill="#fff" stroke="#2a2a2a" stroke-width="0.75"/><rect x="299.25" y="181.85" width="2.70" height="2.70" fill="#fff" stroke="#2a2a2a" stroke-width="0.75"/><rect x="304.4" y="150.2" width="34.4" height="50.4" fill="#fff" stroke="#8a8a8a" stroke-width="0.7"/><circle cx="309.80" cy="155.40" r="1.57" fill="#e02020"/><text x="313.0" y="157.1" font-size="4.75" letter-spacing="0.12" fill="#2a2a2a" stroke="#2a2a2a" stroke-width="0.06">FA</text><circle cx="309.80" cy="162.35" r="1.57" fill="#1c1090"/><text x="313.0" y="164.0" font-size="4.75" letter-spacing="0.12" fill="#2a2a2a" stroke="#2a2a2a" stroke-width="0.06">FA BMT</text><circle cx="309.80" cy="169.30" r="1.57" fill="#40c8d0"/><text x="313.0" y="171.0" font-size="4.75" letter-spacing="0.12" fill="#2a2a2a" stroke="#2a2a2a" stroke-width="0.06">FA Mosaic</text><path d="M309.80 174.40L311.65 177.64L307.95 177.64Z" fill="#0c6a30"/><text x="313.0" y="177.9" font-size="4.75" letter-spacing="0.12" fill="#2a2a2a" stroke="#2a2a2a" stroke-width="0.06">DBA</text><path d="M309.80 181.92L311.08 183.20L309.80 184.48L308.52 183.20Z" fill="#000000"/><text x="313.0" y="184.9" font-size="4.75" letter-spacing="0.12" fill="#2a2a2a" stroke="#2a2a2a" stroke-width="0.06">SDS</text><rect x="308.28" y="188.63" width="3.04" height="3.04" fill="#d020d0"/><text x="313.0" y="191.8" font-size="4.75" letter-spacing="0.12" fill="#2a2a2a" stroke="#2a2a2a" stroke-width="0.06">Other</text><rect x="308.52" y="195.82" width="2.56" height="2.56" fill="#fff" stroke="#2a2a2a" stroke-width="0.75"/><text x="313.0" y="198.8" font-size="4.75" letter-spacing="0.12" fill="#2a2a2a" stroke="#2a2a2a" stroke-width="0.06">Rels</text></g>
<g><line x1="376.5" y1="235.3" x2="516.4" y2="235.3" stroke="#9a9a9a" stroke-width="0.8"/><line x1="376.5" y1="222.9" x2="516.4" y2="222.9" stroke="#9a9a9a" stroke-width="0.8"/><line x1="376.5" y1="210.5" x2="516.4" y2="210.5" stroke="#9a9a9a" stroke-width="0.8"/><line x1="376.5" y1="198.1" x2="516.4" y2="198.1" stroke="#9a9a9a" stroke-width="0.8"/><line x1="376.5" y1="185.8" x2="516.4" y2="185.8" stroke="#9a9a9a" stroke-width="0.8"/><line x1="376.5" y1="173.4" x2="516.4" y2="173.4" stroke="#9a9a9a" stroke-width="0.8"/><line x1="376.5" y1="161.0" x2="516.4" y2="161.0" stroke="#9a9a9a" stroke-width="0.8"/><line x1="376.5" y1="148.6" x2="516.4" y2="148.6" stroke="#9a9a9a" stroke-width="0.8"/><line x1="516.4" y1="148.6" x2="516.4" y2="235.3" stroke="#9a9a9a" stroke-width="0.8"/><line x1="376.5" y1="148.6" x2="376.5" y2="235.7" stroke="#8a8a8a" stroke-width="0.9"/><line x1="376.1" y1="235.3" x2="516.4" y2="235.3" stroke="#8a8a8a" stroke-width="0.9"/><line x1="375.2" y1="235.3" x2="376.5" y2="235.3" stroke="#8a8a8a" stroke-width="0.8"/><line x1="375.2" y1="222.9" x2="376.5" y2="222.9" stroke="#8a8a8a" stroke-width="0.8"/><line x1="375.2" y1="210.5" x2="376.5" y2="210.5" stroke="#8a8a8a" stroke-width="0.8"/><line x1="375.2" y1="198.1" x2="376.5" y2="198.1" stroke="#8a8a8a" stroke-width="0.8"/><line x1="375.2" y1="185.8" x2="376.5" y2="185.8" stroke="#8a8a8a" stroke-width="0.8"/><line x1="375.2" y1="173.4" x2="376.5" y2="173.4" stroke="#8a8a8a" stroke-width="0.8"/><line x1="375.2" y1="161.0" x2="376.5" y2="161.0" stroke="#8a8a8a" stroke-width="0.8"/><line x1="375.2" y1="148.6" x2="376.5" y2="148.6" stroke="#8a8a8a" stroke-width="0.8"/><line x1="376.5" y1="234.3" x2="376.5" y2="236.6" stroke="#8a8a8a" stroke-width="0.8"/><line x1="404.5" y1="234.3" x2="404.5" y2="236.6" stroke="#8a8a8a" stroke-width="0.8"/><line x1="432.5" y1="234.3" x2="432.5" y2="236.6" stroke="#8a8a8a" stroke-width="0.8"/><line x1="460.4" y1="234.3" x2="460.4" y2="236.6" stroke="#8a8a8a" stroke-width="0.8"/><line x1="488.4" y1="234.3" x2="488.4" y2="236.6" stroke="#8a8a8a" stroke-width="0.8"/><line x1="516.4" y1="234.3" x2="516.4" y2="236.6" stroke="#8a8a8a" stroke-width="0.8"/><text x="373.2" y="236.90" font-size="4.5" text-anchor="end" fill="#383838" stroke="#383838" stroke-width="0.14">0.0</text><text x="373.2" y="224.51" font-size="4.5" text-anchor="end" fill="#383838" stroke="#383838" stroke-width="0.14">2.0</text><text x="373.2" y="212.13" font-size="4.5" text-anchor="end" fill="#383838" stroke="#383838" stroke-width="0.14">4.0</text><text x="373.2" y="199.74" font-size="4.5" text-anchor="end" fill="#383838" stroke="#383838" stroke-width="0.14">6.0</text><text x="373.2" y="187.36" font-size="4.5" text-anchor="end" fill="#383838" stroke="#383838" stroke-width="0.14">8.0</text><text x="373.2" y="174.97" font-size="4.5" text-anchor="end" fill="#383838" stroke="#383838" stroke-width="0.14">10.0</text><text x="373.2" y="162.59" font-size="4.5" text-anchor="end" fill="#383838" stroke="#383838" stroke-width="0.14">12.0</text><text x="373.2" y="150.20" font-size="4.5" text-anchor="end" fill="#383838" stroke="#383838" stroke-width="0.14">14.0</text><text x="377.0" y="244.4" font-size="4.6" text-anchor="middle" fill="#333" stroke="#333" stroke-width="0.16">0</text><text x="405.0" y="244.4" font-size="4.6" text-anchor="middle" fill="#333" stroke="#333" stroke-width="0.16">20</text><text x="433.0" y="244.4" font-size="4.6" text-anchor="middle" fill="#333" stroke="#333" stroke-width="0.16">40</text><text x="460.9" y="244.4" font-size="4.6" text-anchor="middle" fill="#333" stroke="#333" stroke-width="0.16">60</text><text x="488.9" y="244.4" font-size="4.6" text-anchor="middle" fill="#333" stroke="#333" stroke-width="0.16">80</text><text x="516.9" y="244.4" font-size="4.6" text-anchor="middle" fill="#333" stroke="#333" stroke-width="0.16">100</text><text x="447.1" y="253.2" font-size="5.0" font-weight="bold" text-anchor="middle" fill="#000" stroke="#000" stroke-width="0.22">Age, years</text><text transform="translate(361.8,191.9) rotate(-90)" x="0" y="0" font-size="4.72" font-weight="bold" text-anchor="middle" fill="#000" stroke="#000" stroke-width="0.22">Telomere Length, kb</text><text x="438.7" y="138.6" font-size="7.1" font-weight="bold" text-anchor="middle" fill="#000" stroke="#000" stroke-width="0.2">Leukocytes</text><polyline points="376.50,154.93 378.87,156.20 381.24,157.40 383.61,158.53 385.98,159.59 388.36,160.59 390.73,161.52 393.10,162.39 395.47,163.21 397.84,163.97 400.21,164.68 402.58,165.34 404.95,165.95 407.33,166.51 409.70,167.03 412.07,167.51 414.44,167.95 416.81,168.35 419.18,168.71 421.55,169.05 423.92,169.36 426.29,169.63 428.67,169.89 431.04,170.12 433.41,170.32 435.78,170.52 438.15,170.69 440.52,170.85 442.89,171.00 445.26,171.14 447.64,171.28 450.01,171.41 452.38,171.54 454.75,171.67 457.12,171.80 459.49,171.93 461.86,172.08 464.23,172.23 466.61,172.40 468.98,172.58 471.35,172.77 473.72,172.99 476.09,173.22 478.46,173.48 480.83,173.77 483.20,174.08 485.57,174.43 487.95,174.80 490.32,175.22 492.69,175.67 495.06,176.16 497.43,176.69 499.80,177.26 502.17,177.89 504.54,178.56 506.92,179.28 509.29,180.06 511.66,180.89 514.03,181.78 516.40,182.73" fill="none" stroke="#1a1a1a" stroke-width="0.9"/><polyline points="376.50,162.03 378.87,163.30 381.24,164.50 383.61,165.63 385.98,166.69 388.36,167.69 390.73,168.62 393.10,169.49 395.47,170.31 397.84,171.07 400.21,171.78 402.58,172.44 404.95,173.05 407.33,173.61 409.70,174.13 412.07,174.61 414.44,175.05 416.81,175.45 419.18,175.81 421.55,176.15 423.92,176.46 426.29,176.73 428.67,176.99 431.04,177.22 433.41,177.42 435.78,177.62 438.15,177.79 440.52,177.95 442.89,178.10 445.26,178.24 447.64,178.38 450.01,178.51 452.38,178.64 454.75,178.77 457.12,178.90 459.49,179.03 461.86,179.18 464.23,179.33 466.61,179.50 468.98,179.68 471.35,179.87 473.72,180.09 476.09,180.32 478.46,180.58 480.83,180.87 483.20,181.18 485.57,181.53 487.95,181.90 490.32,182.32 492.69,182.77 495.06,183.26 497.43,183.79 499.80,184.36 502.17,184.99 504.54,185.66 506.92,186.38 509.29,187.16 511.66,187.99 514.03,188.88 516.40,189.83" fill="none" stroke="#1a1a1a" stroke-width="0.9"/><polyline points="376.50,169.73 378.87,171.00 381.24,172.20 383.61,173.33 385.98,174.39 388.36,175.39 390.73,176.32 393.10,177.19 395.47,178.01 397.84,178.77 400.21,179.48 402.58,180.14 404.95,180.75 407.33,181.31 409.70,181.83 412.07,182.31 414.44,182.75 416.81,183.15 419.18,183.51 421.55,183.85 423.92,184.16 426.29,184.43 428.67,184.69 431.04,184.92 433.41,185.12 435.78,185.32 438.15,185.49 440.52,185.65 442.89,185.80 445.26,185.94 447.64,186.08 450.01,186.21 452.38,186.34 454.75,186.47 457.12,186.60 459.49,186.73 461.86,186.88 464.23,187.03 466.61,187.20 468.98,187.38 471.35,187.57 473.72,187.79 476.09,188.02 478.46,188.28 480.83,188.57 483.20,188.88 485.57,189.23 487.95,189.60 490.32,190.02 492.69,190.47 495.06,190.96 497.43,191.49 499.80,192.06 502.17,192.69 504.54,193.36 506.92,194.08 509.29,194.86 511.66,195.69 514.03,196.58 516.40,197.53" fill="none" stroke="#1a1a1a" stroke-width="0.9"/><polyline points="376.50,178.53 378.87,179.80 381.24,181.00 383.61,182.13 385.98,183.19 388.36,184.19 390.73,185.12 393.10,185.99 395.47,186.81 397.84,187.57 400.21,188.28 402.58,188.94 404.95,189.55 407.33,190.11 409.70,190.63 412.07,191.11 414.44,191.55 416.81,191.95 419.18,192.31 421.55,192.65 423.92,192.96 426.29,193.23 428.67,193.49 431.04,193.72 433.41,193.92 435.78,194.12 438.15,194.29 440.52,194.45 442.89,194.60 445.26,194.74 447.64,194.88 450.01,195.01 452.38,195.14 454.75,195.27 457.12,195.40 459.49,195.53 461.86,195.68 464.23,195.83 466.61,196.00 468.98,196.18 471.35,196.37 473.72,196.59 476.09,196.82 478.46,197.08 480.83,197.37 483.20,197.68 485.57,198.03 487.95,198.40 490.32,198.82 492.69,199.27 495.06,199.76 497.43,200.29 499.80,200.86 502.17,201.49 504.54,202.16 506.92,202.88 509.29,203.66 511.66,204.49 514.03,205.38 516.40,206.33" fill="none" stroke="#1a1a1a" stroke-width="0.9"/><polyline points="376.50,184.73 378.87,186.00 381.24,187.20 383.61,188.33 385.98,189.39 388.36,190.39 390.73,191.32 393.10,192.19 395.47,193.01 397.84,193.77 400.21,194.48 402.58,195.14 404.95,195.75 407.33,196.31 409.70,196.83 412.07,197.31 414.44,197.75 416.81,198.15 419.18,198.51 421.55,198.85 423.92,199.16 426.29,199.43 428.67,199.69 431.04,199.92 433.41,200.12 435.78,200.32 438.15,200.49 440.52,200.65 442.89,200.80 445.26,200.94 447.64,201.08 450.01,201.21 452.38,201.34 454.75,201.47 457.12,201.60 459.49,201.73 461.86,201.88 464.23,202.03 466.61,202.20 468.98,202.38 471.35,202.57 473.72,202.79 476.09,203.02 478.46,203.28 480.83,203.57 483.20,203.88 485.57,204.23 487.95,204.60 490.32,205.02 492.69,205.47 495.06,205.96 497.43,206.49 499.80,207.06 502.17,207.69 504.54,208.36 506.92,209.08 509.29,209.86 511.66,210.69 514.03,211.58 516.40,212.53" fill="none" stroke="#1a1a1a" stroke-width="0.9"/><circle cx="404.60" cy="157.80" r="1.65" fill="#e02020"/><circle cx="388.90" cy="165.60" r="1.65" fill="#e02020"/><circle cx="398.60" cy="183.50" r="1.65" fill="#e02020"/><circle cx="402.40" cy="186.20" r="1.65" fill="#e02020"/><circle cx="396.50" cy="189.60" r="1.65" fill="#e02020"/><circle cx="397.50" cy="192.60" r="1.65" fill="#e02020"/><circle cx="400.50" cy="197.40" r="1.65" fill="#e02020"/><circle cx="434.90" cy="204.60" r="1.65" fill="#e02020"/><circle cx="423.90" cy="203.80" r="1.65" fill="#e02020"/><circle cx="397.20" cy="178.30" r="1.65" fill="#1c1090"/><circle cx="413.70" cy="186.70" r="1.65" fill="#40c8d0"/><circle cx="422.50" cy="202.00" r="1.65" fill="#40c8d0"/><circle cx="415.20" cy="188.40" r="1.65" fill="#40c8d0"/><path d="M386.60 175.45L388.55 178.86L384.65 178.86Z" fill="#0c6a30"/><path d="M380.70 179.35L382.65 182.76L378.75 182.76Z" fill="#0c6a30"/><path d="M385.30 186.75L387.25 190.16L383.35 190.16Z" fill="#0c6a30"/><path d="M412.20 187.65L414.15 191.06L410.25 191.06Z" fill="#0c6a30"/><path d="M421.10 190.15L423.05 193.56L419.15 193.56Z" fill="#0c6a30"/><path d="M403.40 190.65L405.35 194.06L401.45 194.06Z" fill="#0c6a30"/><path d="M435.40 187.05L437.35 190.46L433.45 190.46Z" fill="#0c6a30"/><path d="M415.80 189.45L417.75 192.86L413.85 192.86Z" fill="#0c6a30"/><path d="M389.90 177.30L391.50 178.90L389.90 180.50L388.30 178.90Z" fill="#000000"/><path d="M389.20 181.20L390.80 182.80L389.20 184.40L387.60 182.80Z" fill="#000000"/><path d="M393.60 184.10L395.20 185.70L393.60 187.30L392.00 185.70Z" fill="#000000"/><path d="M392.10 190.50L393.70 192.10L392.10 193.70L390.50 192.10Z" fill="#000000"/><path d="M395.00 194.60L396.60 196.20L395.00 197.80L393.40 196.20Z" fill="#000000"/><path d="M435.40 183.50L437.00 185.10L435.40 186.70L433.80 185.10Z" fill="#000000"/><path d="M436.00 191.30L437.60 192.90L436.00 194.50L434.40 192.90Z" fill="#000000"/><rect x="376.30" y="164.00" width="3.20" height="3.20" fill="#d020d0"/><rect x="381.80" y="168.70" width="3.20" height="3.20" fill="#d020d0"/><rect x="376.30" y="173.40" width="3.20" height="3.20" fill="#d020d0"/><rect x="404.20" y="172.80" width="3.20" height="3.20" fill="#d020d0"/><rect x="393.40" y="181.50" width="3.20" height="3.20" fill="#d020d0"/><rect x="383.80" y="182.90" width="3.20" height="3.20" fill="#d020d0"/><rect x="399.10" y="169.50" width="3.20" height="3.20" fill="#d020d0"/><rect x="400.80" y="177.80" width="3.20" height="3.20" fill="#d020d0"/><rect x="382.20" y="171.90" width="3.20" height="3.20" fill="#d020d0"/><rect x="382.85" y="161.95" width="2.70" height="2.70" fill="#fff" stroke="#2a2a2a" stroke-width="0.75"/><rect x="389.95" y="172.15" width="2.70" height="2.70" fill="#fff" stroke="#2a2a2a" stroke-width="0.75"/><rect x="404.85" y="175.25" width="2.70" height="2.70" fill="#fff" stroke="#2a2a2a" stroke-width="0.75"/><rect x="405.55" y="182.25" width="2.70" height="2.70" fill="#fff" stroke="#2a2a2a" stroke-width="0.75"/><rect x="414.25" y="179.95" width="2.70" height="2.70" fill="#fff" stroke="#2a2a2a" stroke-width="0.75"/><rect x="418.55" y="180.55" width="2.70" height="2.70" fill="#fff" stroke="#2a2a2a" stroke-width="0.75"/><rect x="387.85" y="185.35" width="2.70" height="2.70" fill="#fff" stroke="#2a2a2a" stroke-width="0.75"/><rect x="390.25" y="190.65" width="2.70" height="2.70" fill="#fff" stroke="#2a2a2a" stroke-width="0.75"/><rect x="418.75" y="196.95" width="2.70" height="2.70" fill="#fff" stroke="#2a2a2a" stroke-width="0.75"/><rect x="441.85" y="179.85" width="2.70" height="2.70" fill="#fff" stroke="#2a2a2a" stroke-width="0.75"/><rect x="441.85" y="182.95" width="2.70" height="2.70" fill="#fff" stroke="#2a2a2a" stroke-width="0.75"/><rect x="441.85" y="186.85" width="2.70" height="2.70" fill="#fff" stroke="#2a2a2a" stroke-width="0.75"/><rect x="446.55" y="186.85" width="2.70" height="2.70" fill="#fff" stroke="#2a2a2a" stroke-width="0.75"/><rect x="445.05" y="192.35" width="2.70" height="2.70" fill="#fff" stroke="#2a2a2a" stroke-width="0.75"/><rect x="448.95" y="192.15" width="2.70" height="2.70" fill="#fff" stroke="#2a2a2a" stroke-width="0.75"/><rect x="457.25" y="191.65" width="2.70" height="2.70" fill="#fff" stroke="#2a2a2a" stroke-width="0.75"/><rect x="461.45" y="177.45" width="2.70" height="2.70" fill="#fff" stroke="#2a2a2a" stroke-width="0.75"/><rect x="446.35" y="195.85" width="2.70" height="2.70" fill="#fff" stroke="#2a2a2a" stroke-width="0.75"/><rect x="438.05" y="197.65" width="2.70" height="2.70" fill="#fff" stroke="#2a2a2a" stroke-width="0.75"/><rect x="475.35" y="188.25" width="2.70" height="2.70" fill="#fff" stroke="#2a2a2a" stroke-width="0.75"/><rect x="482.6" y="149.1" width="31.8" height="42.7" fill="#fff" stroke="#8a8a8a" stroke-width="0.7"/><circle cx="487.40" cy="153.50" r="1.57" fill="#e02020"/><text x="490.9" y="155.2" font-size="4.75" letter-spacing="0.12" fill="#2a2a2a" stroke="#2a2a2a" stroke-width="0.06">FA</text><circle cx="487.40" cy="159.40" r="1.57" fill="#1c1090"/><text x="490.9" y="161.1" font-size="4.75" letter-spacing="0.12" fill="#2a2a2a" stroke="#2a2a2a" stroke-width="0.06">FA BMT</text><circle cx="487.40" cy="165.30" r="1.57" fill="#40c8d0"/><text x="490.9" y="167.0" font-size="4.75" letter-spacing="0.12" fill="#2a2a2a" stroke="#2a2a2a" stroke-width="0.06">FA Mosaic</text><path d="M487.40 169.35L489.25 172.59L485.55 172.59Z" fill="#0c6a30"/><text x="490.9" y="172.9" font-size="4.75" letter-spacing="0.12" fill="#2a2a2a" stroke="#2a2a2a" stroke-width="0.06">DBA</text><path d="M487.40 175.82L488.68 177.10L487.40 178.38L486.12 177.10Z" fill="#000000"/><text x="490.9" y="178.8" font-size="4.75" letter-spacing="0.12" fill="#2a2a2a" stroke="#2a2a2a" stroke-width="0.06">SDS</text><rect x="485.88" y="181.48" width="3.04" height="3.04" fill="#d020d0"/><text x="490.9" y="184.7" font-size="4.75" letter-spacing="0.12" fill="#2a2a2a" stroke="#2a2a2a" stroke-width="0.06">Other</text><rect x="486.12" y="187.62" width="2.56" height="2.56" fill="#fff" stroke="#2a2a2a" stroke-width="0.75"/><text x="490.9" y="190.6" font-size="4.75" letter-spacing="0.12" fill="#2a2a2a" stroke="#2a2a2a" stroke-width="0.06">Rels</text></g>
</svg></body></html>
